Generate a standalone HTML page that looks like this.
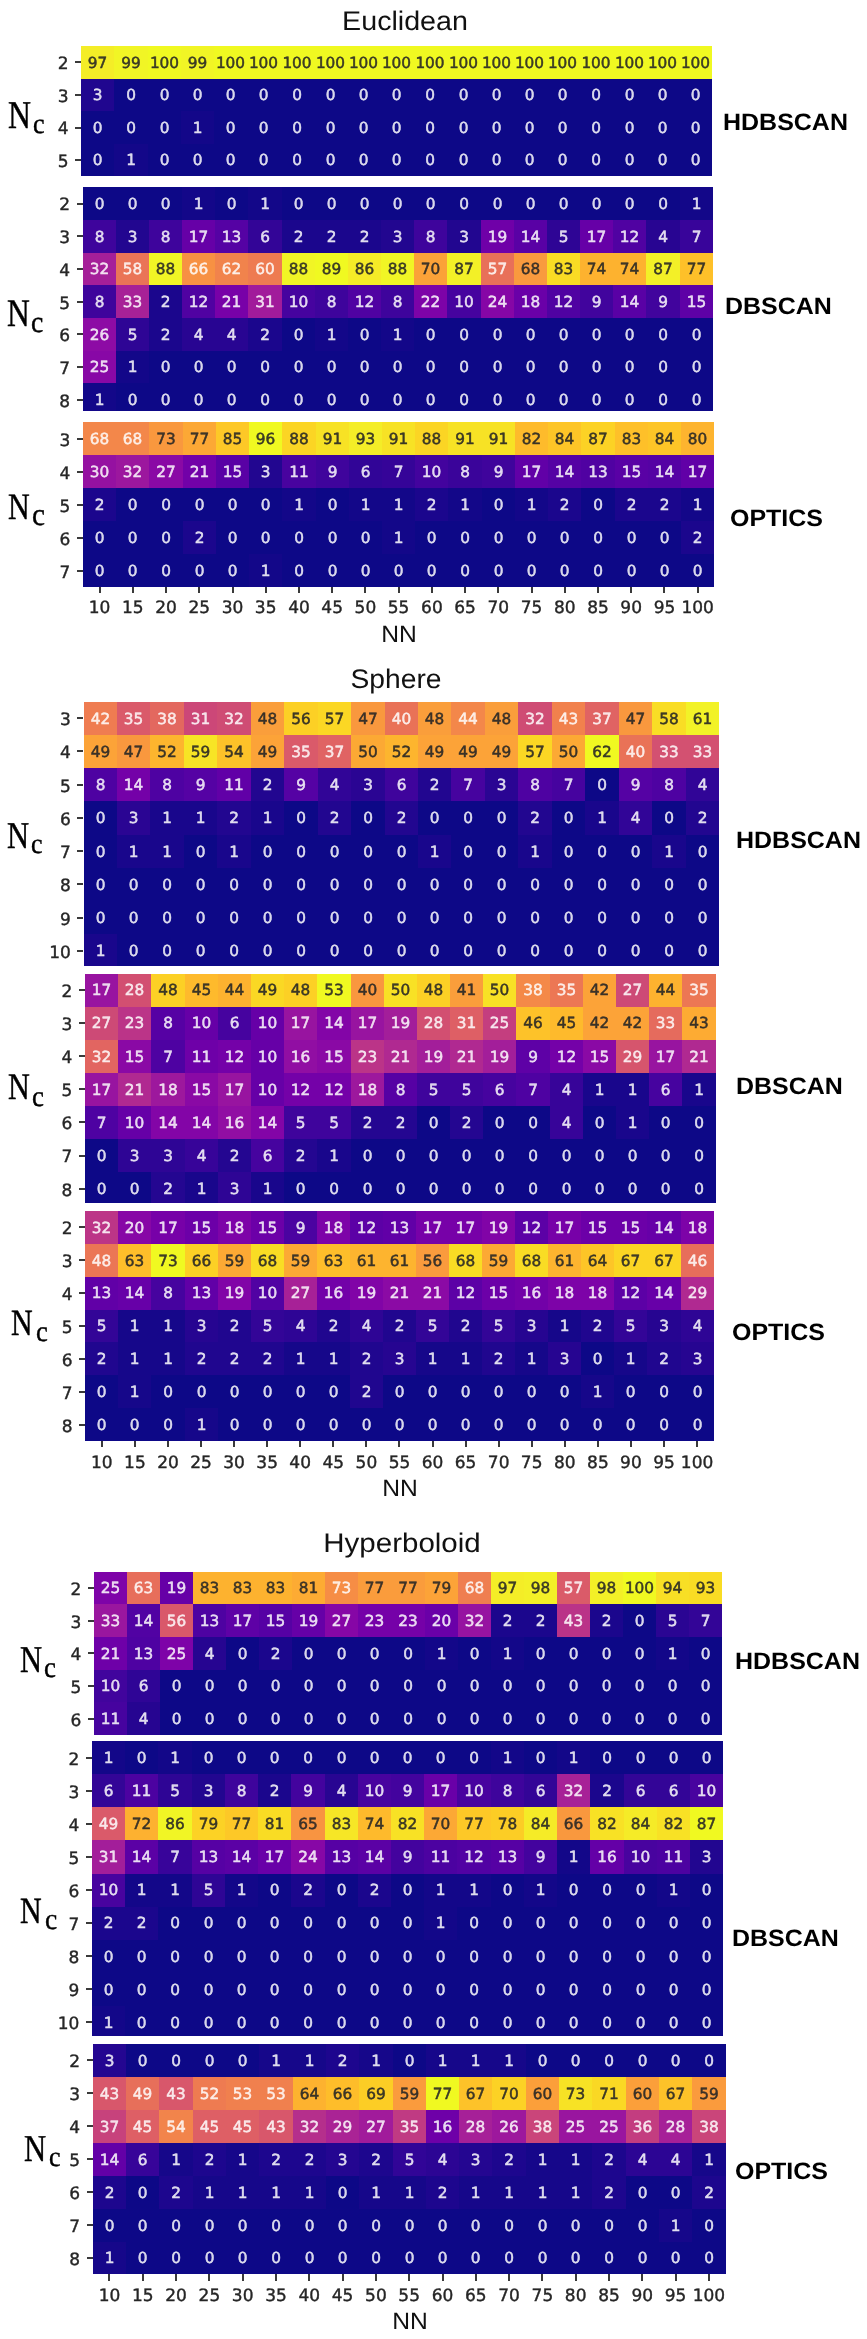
<!DOCTYPE html>
<html><head><meta charset="utf-8"><title>Cluster count heatmaps</title>
<style>
html,body{margin:0;padding:0;background:#fff}
#fig{position:relative;width:867px;height:2339px;overflow:hidden;background:#fff;filter:blur(0.55px);text-rendering:geometricPrecision;font-family:"DejaVu Sans","Liberation Sans",sans-serif}
#fig div{position:absolute;white-space:nowrap}
.hm{overflow:hidden}
.c{text-align:center;line-height:20px;font-size:15.3px;color:rgba(255,255,255,.82);-webkit-text-stroke:0.5px currentColor}
.c.k{color:rgba(38,38,38,.88)}
.yt,.xt{line-height:24px;font-size:17.0px;color:#262626;-webkit-text-stroke:0.4px currentColor}
.yt{text-align:right}
.xt{text-align:center}
.tk{background:#3a3a3a}
.lab{font-family:"Liberation Sans",sans-serif;font-weight:bold;color:#000;font-size:23.7px;line-height:30px;height:30px;transform-origin:0 50%;transform:scaleX(1.055)}
.ttl,.nn{font-family:"Liberation Sans",sans-serif;color:#111;text-align:center;transform-origin:50% 50%}
.N,.sc{font-family:"Liberation Serif",serif;color:#000;transform-origin:0 0;-webkit-text-stroke:0.45px #000}
.N{transform:scaleX(0.81)}
.sc{transform:scaleX(0.92)}
</style></head><body><div id="fig">
<div class="hm" style="left:81px;top:46px;width:631px;height:130px;background:#0d0887"><div class="c k" style="left:0px;top:0px;width:33px;height:33px;background:#f4ed27"><div style="left:0;width:100%;top:7px">97</div></div><div class="c k" style="left:33px;top:0px;width:34px;height:33px;background:#f1f525"><div style="left:0;width:100%;top:7px">99</div></div><div class="c k" style="left:67px;top:0px;width:33px;height:33px;background:#f0f921"><div style="left:0;width:100%;top:7px">100</div></div><div class="c k" style="left:100px;top:0px;width:33px;height:33px;background:#f1f525"><div style="left:0;width:100%;top:7px">99</div></div><div class="c k" style="left:133px;top:0px;width:33px;height:33px;background:#f0f921"><div style="left:0;width:100%;top:7px">100</div></div><div class="c k" style="left:166px;top:0px;width:33px;height:33px;background:#f0f921"><div style="left:0;width:100%;top:7px">100</div></div><div class="c k" style="left:199px;top:0px;width:34px;height:33px;background:#f0f921"><div style="left:0;width:100%;top:7px">100</div></div><div class="c k" style="left:233px;top:0px;width:33px;height:33px;background:#f0f921"><div style="left:0;width:100%;top:7px">100</div></div><div class="c k" style="left:266px;top:0px;width:33px;height:33px;background:#f0f921"><div style="left:0;width:100%;top:7px">100</div></div><div class="c k" style="left:299px;top:0px;width:33px;height:33px;background:#f0f921"><div style="left:0;width:100%;top:7px">100</div></div><div class="c k" style="left:332px;top:0px;width:34px;height:33px;background:#f0f921"><div style="left:0;width:100%;top:7px">100</div></div><div class="c k" style="left:366px;top:0px;width:33px;height:33px;background:#f0f921"><div style="left:0;width:100%;top:7px">100</div></div><div class="c k" style="left:399px;top:0px;width:33px;height:33px;background:#f0f921"><div style="left:0;width:100%;top:7px">100</div></div><div class="c k" style="left:432px;top:0px;width:33px;height:33px;background:#f0f921"><div style="left:0;width:100%;top:7px">100</div></div><div class="c k" style="left:465px;top:0px;width:33px;height:33px;background:#f0f921"><div style="left:0;width:100%;top:7px">100</div></div><div class="c k" style="left:498px;top:0px;width:34px;height:33px;background:#f0f921"><div style="left:0;width:100%;top:7px">100</div></div><div class="c k" style="left:532px;top:0px;width:33px;height:33px;background:#f0f921"><div style="left:0;width:100%;top:7px">100</div></div><div class="c k" style="left:565px;top:0px;width:33px;height:33px;background:#f0f921"><div style="left:0;width:100%;top:7px">100</div></div><div class="c k" style="left:598px;top:0px;width:33px;height:33px;background:#f0f921"><div style="left:0;width:100%;top:7px">100</div></div><div class="c" style="left:0px;top:33px;width:33px;height:32px;background:#20068f"><div style="left:0;width:100%;top:6px">3</div></div><div class="c" style="left:33px;top:33px;width:34px;height:32px;background:#0d0887"><div style="left:0;width:100%;top:6px">0</div></div><div class="c" style="left:67px;top:33px;width:33px;height:32px;background:#0d0887"><div style="left:0;width:100%;top:6px">0</div></div><div class="c" style="left:100px;top:33px;width:33px;height:32px;background:#0d0887"><div style="left:0;width:100%;top:6px">0</div></div><div class="c" style="left:133px;top:33px;width:33px;height:32px;background:#0d0887"><div style="left:0;width:100%;top:6px">0</div></div><div class="c" style="left:166px;top:33px;width:33px;height:32px;background:#0d0887"><div style="left:0;width:100%;top:6px">0</div></div><div class="c" style="left:199px;top:33px;width:34px;height:32px;background:#0d0887"><div style="left:0;width:100%;top:6px">0</div></div><div class="c" style="left:233px;top:33px;width:33px;height:32px;background:#0d0887"><div style="left:0;width:100%;top:6px">0</div></div><div class="c" style="left:266px;top:33px;width:33px;height:32px;background:#0d0887"><div style="left:0;width:100%;top:6px">0</div></div><div class="c" style="left:299px;top:33px;width:33px;height:32px;background:#0d0887"><div style="left:0;width:100%;top:6px">0</div></div><div class="c" style="left:332px;top:33px;width:34px;height:32px;background:#0d0887"><div style="left:0;width:100%;top:6px">0</div></div><div class="c" style="left:366px;top:33px;width:33px;height:32px;background:#0d0887"><div style="left:0;width:100%;top:6px">0</div></div><div class="c" style="left:399px;top:33px;width:33px;height:32px;background:#0d0887"><div style="left:0;width:100%;top:6px">0</div></div><div class="c" style="left:432px;top:33px;width:33px;height:32px;background:#0d0887"><div style="left:0;width:100%;top:6px">0</div></div><div class="c" style="left:465px;top:33px;width:33px;height:32px;background:#0d0887"><div style="left:0;width:100%;top:6px">0</div></div><div class="c" style="left:498px;top:33px;width:34px;height:32px;background:#0d0887"><div style="left:0;width:100%;top:6px">0</div></div><div class="c" style="left:532px;top:33px;width:33px;height:32px;background:#0d0887"><div style="left:0;width:100%;top:6px">0</div></div><div class="c" style="left:565px;top:33px;width:33px;height:32px;background:#0d0887"><div style="left:0;width:100%;top:6px">0</div></div><div class="c" style="left:598px;top:33px;width:33px;height:32px;background:#0d0887"><div style="left:0;width:100%;top:6px">0</div></div><div class="c" style="left:0px;top:65px;width:33px;height:33px;background:#0d0887"><div style="left:0;width:100%;top:7px">0</div></div><div class="c" style="left:33px;top:65px;width:34px;height:33px;background:#0d0887"><div style="left:0;width:100%;top:7px">0</div></div><div class="c" style="left:67px;top:65px;width:33px;height:33px;background:#0d0887"><div style="left:0;width:100%;top:7px">0</div></div><div class="c" style="left:100px;top:65px;width:33px;height:33px;background:#130789"><div style="left:0;width:100%;top:7px">1</div></div><div class="c" style="left:133px;top:65px;width:33px;height:33px;background:#0d0887"><div style="left:0;width:100%;top:7px">0</div></div><div class="c" style="left:166px;top:65px;width:33px;height:33px;background:#0d0887"><div style="left:0;width:100%;top:7px">0</div></div><div class="c" style="left:199px;top:65px;width:34px;height:33px;background:#0d0887"><div style="left:0;width:100%;top:7px">0</div></div><div class="c" style="left:233px;top:65px;width:33px;height:33px;background:#0d0887"><div style="left:0;width:100%;top:7px">0</div></div><div class="c" style="left:266px;top:65px;width:33px;height:33px;background:#0d0887"><div style="left:0;width:100%;top:7px">0</div></div><div class="c" style="left:299px;top:65px;width:33px;height:33px;background:#0d0887"><div style="left:0;width:100%;top:7px">0</div></div><div class="c" style="left:332px;top:65px;width:34px;height:33px;background:#0d0887"><div style="left:0;width:100%;top:7px">0</div></div><div class="c" style="left:366px;top:65px;width:33px;height:33px;background:#0d0887"><div style="left:0;width:100%;top:7px">0</div></div><div class="c" style="left:399px;top:65px;width:33px;height:33px;background:#0d0887"><div style="left:0;width:100%;top:7px">0</div></div><div class="c" style="left:432px;top:65px;width:33px;height:33px;background:#0d0887"><div style="left:0;width:100%;top:7px">0</div></div><div class="c" style="left:465px;top:65px;width:33px;height:33px;background:#0d0887"><div style="left:0;width:100%;top:7px">0</div></div><div class="c" style="left:498px;top:65px;width:34px;height:33px;background:#0d0887"><div style="left:0;width:100%;top:7px">0</div></div><div class="c" style="left:532px;top:65px;width:33px;height:33px;background:#0d0887"><div style="left:0;width:100%;top:7px">0</div></div><div class="c" style="left:565px;top:65px;width:33px;height:33px;background:#0d0887"><div style="left:0;width:100%;top:7px">0</div></div><div class="c" style="left:598px;top:65px;width:33px;height:33px;background:#0d0887"><div style="left:0;width:100%;top:7px">0</div></div><div class="c" style="left:0px;top:98px;width:33px;height:32px;background:#0d0887"><div style="left:0;width:100%;top:6px">0</div></div><div class="c" style="left:33px;top:98px;width:34px;height:32px;background:#130789"><div style="left:0;width:100%;top:6px">1</div></div><div class="c" style="left:67px;top:98px;width:33px;height:32px;background:#0d0887"><div style="left:0;width:100%;top:6px">0</div></div><div class="c" style="left:100px;top:98px;width:33px;height:32px;background:#0d0887"><div style="left:0;width:100%;top:6px">0</div></div><div class="c" style="left:133px;top:98px;width:33px;height:32px;background:#0d0887"><div style="left:0;width:100%;top:6px">0</div></div><div class="c" style="left:166px;top:98px;width:33px;height:32px;background:#0d0887"><div style="left:0;width:100%;top:6px">0</div></div><div class="c" style="left:199px;top:98px;width:34px;height:32px;background:#0d0887"><div style="left:0;width:100%;top:6px">0</div></div><div class="c" style="left:233px;top:98px;width:33px;height:32px;background:#0d0887"><div style="left:0;width:100%;top:6px">0</div></div><div class="c" style="left:266px;top:98px;width:33px;height:32px;background:#0d0887"><div style="left:0;width:100%;top:6px">0</div></div><div class="c" style="left:299px;top:98px;width:33px;height:32px;background:#0d0887"><div style="left:0;width:100%;top:6px">0</div></div><div class="c" style="left:332px;top:98px;width:34px;height:32px;background:#0d0887"><div style="left:0;width:100%;top:6px">0</div></div><div class="c" style="left:366px;top:98px;width:33px;height:32px;background:#0d0887"><div style="left:0;width:100%;top:6px">0</div></div><div class="c" style="left:399px;top:98px;width:33px;height:32px;background:#0d0887"><div style="left:0;width:100%;top:6px">0</div></div><div class="c" style="left:432px;top:98px;width:33px;height:32px;background:#0d0887"><div style="left:0;width:100%;top:6px">0</div></div><div class="c" style="left:465px;top:98px;width:33px;height:32px;background:#0d0887"><div style="left:0;width:100%;top:6px">0</div></div><div class="c" style="left:498px;top:98px;width:34px;height:32px;background:#0d0887"><div style="left:0;width:100%;top:6px">0</div></div><div class="c" style="left:532px;top:98px;width:33px;height:32px;background:#0d0887"><div style="left:0;width:100%;top:6px">0</div></div><div class="c" style="left:565px;top:98px;width:33px;height:32px;background:#0d0887"><div style="left:0;width:100%;top:6px">0</div></div><div class="c" style="left:598px;top:98px;width:33px;height:32px;background:#0d0887"><div style="left:0;width:100%;top:6px">0</div></div></div>
<div class="tk" style="left:75.0px;top:61px;width:6.2px;height:2px"></div><div class="yt" style="left:8.5px;top:52px;width:60px">2</div><div class="tk" style="left:75.0px;top:94px;width:6.2px;height:2px"></div><div class="yt" style="left:8.5px;top:85px;width:60px">3</div><div class="tk" style="left:75.0px;top:127px;width:6.2px;height:2px"></div><div class="yt" style="left:8.5px;top:117px;width:60px">4</div><div class="tk" style="left:75.0px;top:159px;width:6.2px;height:2px"></div><div class="yt" style="left:8.5px;top:150px;width:60px">5</div>
<div class="lab" style="left:723.1px;top:107.97px">HDBSCAN</div>
<div class="N" style="left:7.6px;top:93.84px;line-height:44px;font-size:39.27px">N</div><div class="sc" style="left:32.8px;top:105.44px;line-height:40px;font-size:28.32px">c</div>
<div class="hm" style="left:83px;top:187px;width:630px;height:224px;background:#0d0887"><div class="c" style="left:0px;top:0px;width:33px;height:33px;background:#0d0887"><div style="left:0;width:100%;top:7px">0</div></div><div class="c" style="left:33px;top:0px;width:33px;height:33px;background:#0d0887"><div style="left:0;width:100%;top:7px">0</div></div><div class="c" style="left:66px;top:0px;width:33px;height:33px;background:#0d0887"><div style="left:0;width:100%;top:7px">0</div></div><div class="c" style="left:99px;top:0px;width:33px;height:33px;background:#130789"><div style="left:0;width:100%;top:7px">1</div></div><div class="c" style="left:132px;top:0px;width:33px;height:33px;background:#0d0887"><div style="left:0;width:100%;top:7px">0</div></div><div class="c" style="left:165px;top:0px;width:34px;height:33px;background:#130789"><div style="left:0;width:100%;top:7px">1</div></div><div class="c" style="left:199px;top:0px;width:33px;height:33px;background:#0d0887"><div style="left:0;width:100%;top:7px">0</div></div><div class="c" style="left:232px;top:0px;width:33px;height:33px;background:#0d0887"><div style="left:0;width:100%;top:7px">0</div></div><div class="c" style="left:265px;top:0px;width:33px;height:33px;background:#0d0887"><div style="left:0;width:100%;top:7px">0</div></div><div class="c" style="left:298px;top:0px;width:33px;height:33px;background:#0d0887"><div style="left:0;width:100%;top:7px">0</div></div><div class="c" style="left:331px;top:0px;width:33px;height:33px;background:#0d0887"><div style="left:0;width:100%;top:7px">0</div></div><div class="c" style="left:364px;top:0px;width:34px;height:33px;background:#0d0887"><div style="left:0;width:100%;top:7px">0</div></div><div class="c" style="left:398px;top:0px;width:33px;height:33px;background:#0d0887"><div style="left:0;width:100%;top:7px">0</div></div><div class="c" style="left:431px;top:0px;width:33px;height:33px;background:#0d0887"><div style="left:0;width:100%;top:7px">0</div></div><div class="c" style="left:464px;top:0px;width:33px;height:33px;background:#0d0887"><div style="left:0;width:100%;top:7px">0</div></div><div class="c" style="left:497px;top:0px;width:33px;height:33px;background:#0d0887"><div style="left:0;width:100%;top:7px">0</div></div><div class="c" style="left:530px;top:0px;width:33px;height:33px;background:#0d0887"><div style="left:0;width:100%;top:7px">0</div></div><div class="c" style="left:563px;top:0px;width:34px;height:33px;background:#0d0887"><div style="left:0;width:100%;top:7px">0</div></div><div class="c" style="left:597px;top:0px;width:33px;height:33px;background:#130789"><div style="left:0;width:100%;top:7px">1</div></div><div class="c" style="left:0px;top:33px;width:33px;height:33px;background:#3e049c"><div style="left:0;width:100%;top:7px">8</div></div><div class="c" style="left:33px;top:33px;width:33px;height:33px;background:#220690"><div style="left:0;width:100%;top:7px">3</div></div><div class="c" style="left:66px;top:33px;width:33px;height:33px;background:#3e049c"><div style="left:0;width:100%;top:7px">8</div></div><div class="c" style="left:99px;top:33px;width:33px;height:33px;background:#6600a7"><div style="left:0;width:100%;top:7px">17</div></div><div class="c" style="left:132px;top:33px;width:33px;height:33px;background:#5502a4"><div style="left:0;width:100%;top:7px">13</div></div><div class="c" style="left:165px;top:33px;width:34px;height:33px;background:#330597"><div style="left:0;width:100%;top:7px">6</div></div><div class="c" style="left:199px;top:33px;width:33px;height:33px;background:#1b068d"><div style="left:0;width:100%;top:7px">2</div></div><div class="c" style="left:232px;top:33px;width:33px;height:33px;background:#1b068d"><div style="left:0;width:100%;top:7px">2</div></div><div class="c" style="left:265px;top:33px;width:33px;height:33px;background:#1b068d"><div style="left:0;width:100%;top:7px">2</div></div><div class="c" style="left:298px;top:33px;width:33px;height:33px;background:#220690"><div style="left:0;width:100%;top:7px">3</div></div><div class="c" style="left:331px;top:33px;width:33px;height:33px;background:#3e049c"><div style="left:0;width:100%;top:7px">8</div></div><div class="c" style="left:364px;top:33px;width:34px;height:33px;background:#220690"><div style="left:0;width:100%;top:7px">3</div></div><div class="c" style="left:398px;top:33px;width:33px;height:33px;background:#6f00a8"><div style="left:0;width:100%;top:7px">19</div></div><div class="c" style="left:431px;top:33px;width:33px;height:33px;background:#5901a5"><div style="left:0;width:100%;top:7px">14</div></div><div class="c" style="left:464px;top:33px;width:33px;height:33px;background:#2e0595"><div style="left:0;width:100%;top:7px">5</div></div><div class="c" style="left:497px;top:33px;width:33px;height:33px;background:#6600a7"><div style="left:0;width:100%;top:7px">17</div></div><div class="c" style="left:530px;top:33px;width:33px;height:33px;background:#5002a2"><div style="left:0;width:100%;top:7px">12</div></div><div class="c" style="left:563px;top:33px;width:34px;height:33px;background:#280592"><div style="left:0;width:100%;top:7px">4</div></div><div class="c" style="left:597px;top:33px;width:33px;height:33px;background:#38049a"><div style="left:0;width:100%;top:7px">7</div></div><div class="c" style="left:0px;top:66px;width:33px;height:32px;background:#a51f99"><div style="left:0;width:100%;top:6px">32</div></div><div class="c" style="left:33px;top:66px;width:33px;height:32px;background:#ea7457"><div style="left:0;width:100%;top:6px">58</div></div><div class="c k" style="left:66px;top:66px;width:33px;height:32px;background:#f1f525"><div style="left:0;width:100%;top:6px">88</div></div><div class="c" style="left:99px;top:66px;width:33px;height:32px;background:#f79143"><div style="left:0;width:100%;top:6px">66</div></div><div class="c" style="left:132px;top:66px;width:33px;height:32px;background:#f1834c"><div style="left:0;width:100%;top:6px">62</div></div><div class="c" style="left:165px;top:66px;width:34px;height:32px;background:#ee7b51"><div style="left:0;width:100%;top:6px">60</div></div><div class="c k" style="left:199px;top:66px;width:33px;height:32px;background:#f1f525"><div style="left:0;width:100%;top:6px">88</div></div><div class="c k" style="left:232px;top:66px;width:33px;height:32px;background:#f0f921"><div style="left:0;width:100%;top:6px">89</div></div><div class="c k" style="left:265px;top:66px;width:33px;height:32px;background:#f5eb27"><div style="left:0;width:100%;top:6px">86</div></div><div class="c k" style="left:298px;top:66px;width:33px;height:32px;background:#f1f525"><div style="left:0;width:100%;top:6px">88</div></div><div class="c k" style="left:331px;top:66px;width:33px;height:32px;background:#fba238"><div style="left:0;width:100%;top:6px">70</div></div><div class="c k" style="left:364px;top:66px;width:34px;height:32px;background:#f3f027"><div style="left:0;width:100%;top:6px">87</div></div><div class="c" style="left:398px;top:66px;width:33px;height:32px;background:#e87059"><div style="left:0;width:100%;top:6px">57</div></div><div class="c k" style="left:431px;top:66px;width:33px;height:32px;background:#f99a3e"><div style="left:0;width:100%;top:6px">68</div></div><div class="c k" style="left:464px;top:66px;width:33px;height:32px;background:#f9dc24"><div style="left:0;width:100%;top:6px">83</div></div><div class="c k" style="left:497px;top:66px;width:33px;height:32px;background:#fdb22f"><div style="left:0;width:100%;top:6px">74</div></div><div class="c k" style="left:530px;top:66px;width:33px;height:32px;background:#fdb22f"><div style="left:0;width:100%;top:6px">74</div></div><div class="c k" style="left:563px;top:66px;width:34px;height:32px;background:#f3f027"><div style="left:0;width:100%;top:6px">87</div></div><div class="c k" style="left:597px;top:66px;width:33px;height:32px;background:#fec029"><div style="left:0;width:100%;top:6px">77</div></div><div class="c" style="left:0px;top:98px;width:33px;height:33px;background:#3e049c"><div style="left:0;width:100%;top:7px">8</div></div><div class="c" style="left:33px;top:98px;width:33px;height:33px;background:#a72197"><div style="left:0;width:100%;top:7px">33</div></div><div class="c" style="left:66px;top:98px;width:33px;height:33px;background:#1b068d"><div style="left:0;width:100%;top:7px">2</div></div><div class="c" style="left:99px;top:98px;width:33px;height:33px;background:#5002a2"><div style="left:0;width:100%;top:7px">12</div></div><div class="c" style="left:132px;top:98px;width:33px;height:33px;background:#7801a8"><div style="left:0;width:100%;top:7px">21</div></div><div class="c" style="left:165px;top:98px;width:34px;height:33px;background:#a11b9b"><div style="left:0;width:100%;top:7px">31</div></div><div class="c" style="left:199px;top:98px;width:33px;height:33px;background:#46039f"><div style="left:0;width:100%;top:7px">10</div></div><div class="c" style="left:232px;top:98px;width:33px;height:33px;background:#3e049c"><div style="left:0;width:100%;top:7px">8</div></div><div class="c" style="left:265px;top:98px;width:33px;height:33px;background:#5002a2"><div style="left:0;width:100%;top:7px">12</div></div><div class="c" style="left:298px;top:98px;width:33px;height:33px;background:#3e049c"><div style="left:0;width:100%;top:7px">8</div></div><div class="c" style="left:331px;top:98px;width:33px;height:33px;background:#7d03a8"><div style="left:0;width:100%;top:7px">22</div></div><div class="c" style="left:364px;top:98px;width:34px;height:33px;background:#46039f"><div style="left:0;width:100%;top:7px">10</div></div><div class="c" style="left:398px;top:98px;width:33px;height:33px;background:#8606a6"><div style="left:0;width:100%;top:7px">24</div></div><div class="c" style="left:431px;top:98px;width:33px;height:33px;background:#6a00a8"><div style="left:0;width:100%;top:7px">18</div></div><div class="c" style="left:464px;top:98px;width:33px;height:33px;background:#5002a2"><div style="left:0;width:100%;top:7px">12</div></div><div class="c" style="left:497px;top:98px;width:33px;height:33px;background:#41049d"><div style="left:0;width:100%;top:7px">9</div></div><div class="c" style="left:530px;top:98px;width:33px;height:33px;background:#5901a5"><div style="left:0;width:100%;top:7px">14</div></div><div class="c" style="left:563px;top:98px;width:34px;height:33px;background:#41049d"><div style="left:0;width:100%;top:7px">9</div></div><div class="c" style="left:597px;top:98px;width:33px;height:33px;background:#5e01a6"><div style="left:0;width:100%;top:7px">15</div></div><div class="c" style="left:0px;top:131px;width:33px;height:33px;background:#8d0ba5"><div style="left:0;width:100%;top:7px">26</div></div><div class="c" style="left:33px;top:131px;width:33px;height:33px;background:#2e0595"><div style="left:0;width:100%;top:7px">5</div></div><div class="c" style="left:66px;top:131px;width:33px;height:33px;background:#1b068d"><div style="left:0;width:100%;top:7px">2</div></div><div class="c" style="left:99px;top:131px;width:33px;height:33px;background:#280592"><div style="left:0;width:100%;top:7px">4</div></div><div class="c" style="left:132px;top:131px;width:33px;height:33px;background:#280592"><div style="left:0;width:100%;top:7px">4</div></div><div class="c" style="left:165px;top:131px;width:34px;height:33px;background:#1b068d"><div style="left:0;width:100%;top:7px">2</div></div><div class="c" style="left:199px;top:131px;width:33px;height:33px;background:#0d0887"><div style="left:0;width:100%;top:7px">0</div></div><div class="c" style="left:232px;top:131px;width:33px;height:33px;background:#130789"><div style="left:0;width:100%;top:7px">1</div></div><div class="c" style="left:265px;top:131px;width:33px;height:33px;background:#0d0887"><div style="left:0;width:100%;top:7px">0</div></div><div class="c" style="left:298px;top:131px;width:33px;height:33px;background:#130789"><div style="left:0;width:100%;top:7px">1</div></div><div class="c" style="left:331px;top:131px;width:33px;height:33px;background:#0d0887"><div style="left:0;width:100%;top:7px">0</div></div><div class="c" style="left:364px;top:131px;width:34px;height:33px;background:#0d0887"><div style="left:0;width:100%;top:7px">0</div></div><div class="c" style="left:398px;top:131px;width:33px;height:33px;background:#0d0887"><div style="left:0;width:100%;top:7px">0</div></div><div class="c" style="left:431px;top:131px;width:33px;height:33px;background:#0d0887"><div style="left:0;width:100%;top:7px">0</div></div><div class="c" style="left:464px;top:131px;width:33px;height:33px;background:#0d0887"><div style="left:0;width:100%;top:7px">0</div></div><div class="c" style="left:497px;top:131px;width:33px;height:33px;background:#0d0887"><div style="left:0;width:100%;top:7px">0</div></div><div class="c" style="left:530px;top:131px;width:33px;height:33px;background:#0d0887"><div style="left:0;width:100%;top:7px">0</div></div><div class="c" style="left:563px;top:131px;width:34px;height:33px;background:#0d0887"><div style="left:0;width:100%;top:7px">0</div></div><div class="c" style="left:597px;top:131px;width:33px;height:33px;background:#0d0887"><div style="left:0;width:100%;top:7px">0</div></div><div class="c" style="left:0px;top:164px;width:33px;height:32px;background:#8808a6"><div style="left:0;width:100%;top:6px">25</div></div><div class="c" style="left:33px;top:164px;width:33px;height:32px;background:#130789"><div style="left:0;width:100%;top:6px">1</div></div><div class="c" style="left:66px;top:164px;width:33px;height:32px;background:#0d0887"><div style="left:0;width:100%;top:6px">0</div></div><div class="c" style="left:99px;top:164px;width:33px;height:32px;background:#0d0887"><div style="left:0;width:100%;top:6px">0</div></div><div class="c" style="left:132px;top:164px;width:33px;height:32px;background:#0d0887"><div style="left:0;width:100%;top:6px">0</div></div><div class="c" style="left:165px;top:164px;width:34px;height:32px;background:#0d0887"><div style="left:0;width:100%;top:6px">0</div></div><div class="c" style="left:199px;top:164px;width:33px;height:32px;background:#0d0887"><div style="left:0;width:100%;top:6px">0</div></div><div class="c" style="left:232px;top:164px;width:33px;height:32px;background:#0d0887"><div style="left:0;width:100%;top:6px">0</div></div><div class="c" style="left:265px;top:164px;width:33px;height:32px;background:#0d0887"><div style="left:0;width:100%;top:6px">0</div></div><div class="c" style="left:298px;top:164px;width:33px;height:32px;background:#0d0887"><div style="left:0;width:100%;top:6px">0</div></div><div class="c" style="left:331px;top:164px;width:33px;height:32px;background:#0d0887"><div style="left:0;width:100%;top:6px">0</div></div><div class="c" style="left:364px;top:164px;width:34px;height:32px;background:#0d0887"><div style="left:0;width:100%;top:6px">0</div></div><div class="c" style="left:398px;top:164px;width:33px;height:32px;background:#0d0887"><div style="left:0;width:100%;top:6px">0</div></div><div class="c" style="left:431px;top:164px;width:33px;height:32px;background:#0d0887"><div style="left:0;width:100%;top:6px">0</div></div><div class="c" style="left:464px;top:164px;width:33px;height:32px;background:#0d0887"><div style="left:0;width:100%;top:6px">0</div></div><div class="c" style="left:497px;top:164px;width:33px;height:32px;background:#0d0887"><div style="left:0;width:100%;top:6px">0</div></div><div class="c" style="left:530px;top:164px;width:33px;height:32px;background:#0d0887"><div style="left:0;width:100%;top:6px">0</div></div><div class="c" style="left:563px;top:164px;width:34px;height:32px;background:#0d0887"><div style="left:0;width:100%;top:6px">0</div></div><div class="c" style="left:597px;top:164px;width:33px;height:32px;background:#0d0887"><div style="left:0;width:100%;top:6px">0</div></div><div class="c" style="left:0px;top:196px;width:33px;height:33px;background:#130789"><div style="left:0;width:100%;top:7px">1</div></div><div class="c" style="left:33px;top:196px;width:33px;height:33px;background:#0d0887"><div style="left:0;width:100%;top:7px">0</div></div><div class="c" style="left:66px;top:196px;width:33px;height:33px;background:#0d0887"><div style="left:0;width:100%;top:7px">0</div></div><div class="c" style="left:99px;top:196px;width:33px;height:33px;background:#0d0887"><div style="left:0;width:100%;top:7px">0</div></div><div class="c" style="left:132px;top:196px;width:33px;height:33px;background:#0d0887"><div style="left:0;width:100%;top:7px">0</div></div><div class="c" style="left:165px;top:196px;width:34px;height:33px;background:#0d0887"><div style="left:0;width:100%;top:7px">0</div></div><div class="c" style="left:199px;top:196px;width:33px;height:33px;background:#0d0887"><div style="left:0;width:100%;top:7px">0</div></div><div class="c" style="left:232px;top:196px;width:33px;height:33px;background:#0d0887"><div style="left:0;width:100%;top:7px">0</div></div><div class="c" style="left:265px;top:196px;width:33px;height:33px;background:#0d0887"><div style="left:0;width:100%;top:7px">0</div></div><div class="c" style="left:298px;top:196px;width:33px;height:33px;background:#0d0887"><div style="left:0;width:100%;top:7px">0</div></div><div class="c" style="left:331px;top:196px;width:33px;height:33px;background:#0d0887"><div style="left:0;width:100%;top:7px">0</div></div><div class="c" style="left:364px;top:196px;width:34px;height:33px;background:#0d0887"><div style="left:0;width:100%;top:7px">0</div></div><div class="c" style="left:398px;top:196px;width:33px;height:33px;background:#0d0887"><div style="left:0;width:100%;top:7px">0</div></div><div class="c" style="left:431px;top:196px;width:33px;height:33px;background:#0d0887"><div style="left:0;width:100%;top:7px">0</div></div><div class="c" style="left:464px;top:196px;width:33px;height:33px;background:#0d0887"><div style="left:0;width:100%;top:7px">0</div></div><div class="c" style="left:497px;top:196px;width:33px;height:33px;background:#0d0887"><div style="left:0;width:100%;top:7px">0</div></div><div class="c" style="left:530px;top:196px;width:33px;height:33px;background:#0d0887"><div style="left:0;width:100%;top:7px">0</div></div><div class="c" style="left:563px;top:196px;width:34px;height:33px;background:#0d0887"><div style="left:0;width:100%;top:7px">0</div></div><div class="c" style="left:597px;top:196px;width:33px;height:33px;background:#0d0887"><div style="left:0;width:100%;top:7px">0</div></div></div>
<div class="tk" style="left:76.5px;top:203px;width:6.2px;height:2px"></div><div class="yt" style="left:10.0px;top:193px;width:60px">2</div><div class="tk" style="left:76.5px;top:235px;width:6.2px;height:2px"></div><div class="yt" style="left:10.0px;top:226px;width:60px">3</div><div class="tk" style="left:76.5px;top:268px;width:6.2px;height:2px"></div><div class="yt" style="left:10.0px;top:259px;width:60px">4</div><div class="tk" style="left:76.5px;top:301px;width:6.2px;height:2px"></div><div class="yt" style="left:10.0px;top:292px;width:60px">5</div><div class="tk" style="left:76.5px;top:333px;width:6.2px;height:2px"></div><div class="yt" style="left:10.0px;top:324px;width:60px">6</div><div class="tk" style="left:76.5px;top:366px;width:6.2px;height:2px"></div><div class="yt" style="left:10.0px;top:357px;width:60px">7</div><div class="tk" style="left:76.5px;top:399px;width:6.2px;height:2px"></div><div class="yt" style="left:10.0px;top:390px;width:60px">8</div>
<div class="lab" style="left:725.2px;top:292.02px">DBSCAN</div>
<div class="N" style="left:7.0px;top:291.65px;line-height:44px;font-size:38.97px">N</div><div class="sc" style="left:31.3px;top:302.15px;line-height:40px;font-size:30.07px">c</div>
<div class="hm" style="left:83px;top:422px;width:631px;height:165px;background:#0d0887"><div class="c" style="left:0px;top:0px;width:33px;height:33px;background:#f3874a"><div style="left:0;width:100%;top:7px">68</div></div><div class="c" style="left:33px;top:0px;width:33px;height:33px;background:#f3874a"><div style="left:0;width:100%;top:7px">68</div></div><div class="c k" style="left:66px;top:0px;width:34px;height:33px;background:#f9983e"><div style="left:0;width:100%;top:7px">73</div></div><div class="c k" style="left:100px;top:0px;width:33px;height:33px;background:#fca835"><div style="left:0;width:100%;top:7px">77</div></div><div class="c k" style="left:133px;top:0px;width:33px;height:33px;background:#fdc827"><div style="left:0;width:100%;top:7px">85</div></div><div class="c k" style="left:166px;top:0px;width:33px;height:33px;background:#f0f921"><div style="left:0;width:100%;top:7px">96</div></div><div class="c k" style="left:199px;top:0px;width:34px;height:33px;background:#fbd524"><div style="left:0;width:100%;top:7px">88</div></div><div class="c k" style="left:233px;top:0px;width:33px;height:33px;background:#f7e225"><div style="left:0;width:100%;top:7px">91</div></div><div class="c k" style="left:266px;top:0px;width:33px;height:33px;background:#f4ed27"><div style="left:0;width:100%;top:7px">93</div></div><div class="c k" style="left:299px;top:0px;width:33px;height:33px;background:#f7e225"><div style="left:0;width:100%;top:7px">91</div></div><div class="c k" style="left:332px;top:0px;width:33px;height:33px;background:#fbd524"><div style="left:0;width:100%;top:7px">88</div></div><div class="c k" style="left:365px;top:0px;width:34px;height:33px;background:#f7e225"><div style="left:0;width:100%;top:7px">91</div></div><div class="c k" style="left:399px;top:0px;width:33px;height:33px;background:#f7e225"><div style="left:0;width:100%;top:7px">91</div></div><div class="c k" style="left:432px;top:0px;width:33px;height:33px;background:#febb2b"><div style="left:0;width:100%;top:7px">82</div></div><div class="c k" style="left:465px;top:0px;width:33px;height:33px;background:#fdc527"><div style="left:0;width:100%;top:7px">84</div></div><div class="c k" style="left:498px;top:0px;width:34px;height:33px;background:#fcd225"><div style="left:0;width:100%;top:7px">87</div></div><div class="c k" style="left:532px;top:0px;width:33px;height:33px;background:#fec029"><div style="left:0;width:100%;top:7px">83</div></div><div class="c k" style="left:565px;top:0px;width:33px;height:33px;background:#fdc527"><div style="left:0;width:100%;top:7px">84</div></div><div class="c k" style="left:598px;top:0px;width:33px;height:33px;background:#fdb42f"><div style="left:0;width:100%;top:7px">80</div></div><div class="c" style="left:0px;top:33px;width:33px;height:33px;background:#9511a1"><div style="left:0;width:100%;top:7px">30</div></div><div class="c" style="left:33px;top:33px;width:33px;height:33px;background:#9c179e"><div style="left:0;width:100%;top:7px">32</div></div><div class="c" style="left:66px;top:33px;width:34px;height:33px;background:#8a09a5"><div style="left:0;width:100%;top:7px">27</div></div><div class="c" style="left:100px;top:33px;width:33px;height:33px;background:#7201a8"><div style="left:0;width:100%;top:7px">21</div></div><div class="c" style="left:133px;top:33px;width:33px;height:33px;background:#5901a5"><div style="left:0;width:100%;top:7px">15</div></div><div class="c" style="left:166px;top:33px;width:33px;height:33px;background:#220690"><div style="left:0;width:100%;top:7px">3</div></div><div class="c" style="left:199px;top:33px;width:34px;height:33px;background:#48039f"><div style="left:0;width:100%;top:7px">11</div></div><div class="c" style="left:233px;top:33px;width:33px;height:33px;background:#3f049c"><div style="left:0;width:100%;top:7px">9</div></div><div class="c" style="left:266px;top:33px;width:33px;height:33px;background:#310597"><div style="left:0;width:100%;top:7px">6</div></div><div class="c" style="left:299px;top:33px;width:33px;height:33px;background:#350498"><div style="left:0;width:100%;top:7px">7</div></div><div class="c" style="left:332px;top:33px;width:33px;height:33px;background:#43039e"><div style="left:0;width:100%;top:7px">10</div></div><div class="c" style="left:365px;top:33px;width:34px;height:33px;background:#3a049a"><div style="left:0;width:100%;top:7px">8</div></div><div class="c" style="left:399px;top:33px;width:33px;height:33px;background:#3f049c"><div style="left:0;width:100%;top:7px">9</div></div><div class="c" style="left:432px;top:33px;width:33px;height:33px;background:#6100a7"><div style="left:0;width:100%;top:7px">17</div></div><div class="c" style="left:465px;top:33px;width:33px;height:33px;background:#5502a4"><div style="left:0;width:100%;top:7px">14</div></div><div class="c" style="left:498px;top:33px;width:34px;height:33px;background:#5002a2"><div style="left:0;width:100%;top:7px">13</div></div><div class="c" style="left:532px;top:33px;width:33px;height:33px;background:#5901a5"><div style="left:0;width:100%;top:7px">15</div></div><div class="c" style="left:565px;top:33px;width:33px;height:33px;background:#5502a4"><div style="left:0;width:100%;top:7px">14</div></div><div class="c" style="left:598px;top:33px;width:33px;height:33px;background:#6100a7"><div style="left:0;width:100%;top:7px">17</div></div><div class="c" style="left:0px;top:66px;width:33px;height:33px;background:#1b068d"><div style="left:0;width:100%;top:7px">2</div></div><div class="c" style="left:33px;top:66px;width:33px;height:33px;background:#0d0887"><div style="left:0;width:100%;top:7px">0</div></div><div class="c" style="left:66px;top:66px;width:34px;height:33px;background:#0d0887"><div style="left:0;width:100%;top:7px">0</div></div><div class="c" style="left:100px;top:66px;width:33px;height:33px;background:#0d0887"><div style="left:0;width:100%;top:7px">0</div></div><div class="c" style="left:133px;top:66px;width:33px;height:33px;background:#0d0887"><div style="left:0;width:100%;top:7px">0</div></div><div class="c" style="left:166px;top:66px;width:33px;height:33px;background:#0d0887"><div style="left:0;width:100%;top:7px">0</div></div><div class="c" style="left:199px;top:66px;width:34px;height:33px;background:#130789"><div style="left:0;width:100%;top:7px">1</div></div><div class="c" style="left:233px;top:66px;width:33px;height:33px;background:#0d0887"><div style="left:0;width:100%;top:7px">0</div></div><div class="c" style="left:266px;top:66px;width:33px;height:33px;background:#130789"><div style="left:0;width:100%;top:7px">1</div></div><div class="c" style="left:299px;top:66px;width:33px;height:33px;background:#130789"><div style="left:0;width:100%;top:7px">1</div></div><div class="c" style="left:332px;top:66px;width:33px;height:33px;background:#1b068d"><div style="left:0;width:100%;top:7px">2</div></div><div class="c" style="left:365px;top:66px;width:34px;height:33px;background:#130789"><div style="left:0;width:100%;top:7px">1</div></div><div class="c" style="left:399px;top:66px;width:33px;height:33px;background:#0d0887"><div style="left:0;width:100%;top:7px">0</div></div><div class="c" style="left:432px;top:66px;width:33px;height:33px;background:#130789"><div style="left:0;width:100%;top:7px">1</div></div><div class="c" style="left:465px;top:66px;width:33px;height:33px;background:#1b068d"><div style="left:0;width:100%;top:7px">2</div></div><div class="c" style="left:498px;top:66px;width:34px;height:33px;background:#0d0887"><div style="left:0;width:100%;top:7px">0</div></div><div class="c" style="left:532px;top:66px;width:33px;height:33px;background:#1b068d"><div style="left:0;width:100%;top:7px">2</div></div><div class="c" style="left:565px;top:66px;width:33px;height:33px;background:#1b068d"><div style="left:0;width:100%;top:7px">2</div></div><div class="c" style="left:598px;top:66px;width:33px;height:33px;background:#130789"><div style="left:0;width:100%;top:7px">1</div></div><div class="c" style="left:0px;top:99px;width:33px;height:33px;background:#0d0887"><div style="left:0;width:100%;top:7px">0</div></div><div class="c" style="left:33px;top:99px;width:33px;height:33px;background:#0d0887"><div style="left:0;width:100%;top:7px">0</div></div><div class="c" style="left:66px;top:99px;width:34px;height:33px;background:#0d0887"><div style="left:0;width:100%;top:7px">0</div></div><div class="c" style="left:100px;top:99px;width:33px;height:33px;background:#1b068d"><div style="left:0;width:100%;top:7px">2</div></div><div class="c" style="left:133px;top:99px;width:33px;height:33px;background:#0d0887"><div style="left:0;width:100%;top:7px">0</div></div><div class="c" style="left:166px;top:99px;width:33px;height:33px;background:#0d0887"><div style="left:0;width:100%;top:7px">0</div></div><div class="c" style="left:199px;top:99px;width:34px;height:33px;background:#0d0887"><div style="left:0;width:100%;top:7px">0</div></div><div class="c" style="left:233px;top:99px;width:33px;height:33px;background:#0d0887"><div style="left:0;width:100%;top:7px">0</div></div><div class="c" style="left:266px;top:99px;width:33px;height:33px;background:#0d0887"><div style="left:0;width:100%;top:7px">0</div></div><div class="c" style="left:299px;top:99px;width:33px;height:33px;background:#130789"><div style="left:0;width:100%;top:7px">1</div></div><div class="c" style="left:332px;top:99px;width:33px;height:33px;background:#0d0887"><div style="left:0;width:100%;top:7px">0</div></div><div class="c" style="left:365px;top:99px;width:34px;height:33px;background:#0d0887"><div style="left:0;width:100%;top:7px">0</div></div><div class="c" style="left:399px;top:99px;width:33px;height:33px;background:#0d0887"><div style="left:0;width:100%;top:7px">0</div></div><div class="c" style="left:432px;top:99px;width:33px;height:33px;background:#0d0887"><div style="left:0;width:100%;top:7px">0</div></div><div class="c" style="left:465px;top:99px;width:33px;height:33px;background:#0d0887"><div style="left:0;width:100%;top:7px">0</div></div><div class="c" style="left:498px;top:99px;width:34px;height:33px;background:#0d0887"><div style="left:0;width:100%;top:7px">0</div></div><div class="c" style="left:532px;top:99px;width:33px;height:33px;background:#0d0887"><div style="left:0;width:100%;top:7px">0</div></div><div class="c" style="left:565px;top:99px;width:33px;height:33px;background:#0d0887"><div style="left:0;width:100%;top:7px">0</div></div><div class="c" style="left:598px;top:99px;width:33px;height:33px;background:#1b068d"><div style="left:0;width:100%;top:7px">2</div></div><div class="c" style="left:0px;top:132px;width:33px;height:33px;background:#0d0887"><div style="left:0;width:100%;top:7px">0</div></div><div class="c" style="left:33px;top:132px;width:33px;height:33px;background:#0d0887"><div style="left:0;width:100%;top:7px">0</div></div><div class="c" style="left:66px;top:132px;width:34px;height:33px;background:#0d0887"><div style="left:0;width:100%;top:7px">0</div></div><div class="c" style="left:100px;top:132px;width:33px;height:33px;background:#0d0887"><div style="left:0;width:100%;top:7px">0</div></div><div class="c" style="left:133px;top:132px;width:33px;height:33px;background:#0d0887"><div style="left:0;width:100%;top:7px">0</div></div><div class="c" style="left:166px;top:132px;width:33px;height:33px;background:#130789"><div style="left:0;width:100%;top:7px">1</div></div><div class="c" style="left:199px;top:132px;width:34px;height:33px;background:#0d0887"><div style="left:0;width:100%;top:7px">0</div></div><div class="c" style="left:233px;top:132px;width:33px;height:33px;background:#0d0887"><div style="left:0;width:100%;top:7px">0</div></div><div class="c" style="left:266px;top:132px;width:33px;height:33px;background:#0d0887"><div style="left:0;width:100%;top:7px">0</div></div><div class="c" style="left:299px;top:132px;width:33px;height:33px;background:#0d0887"><div style="left:0;width:100%;top:7px">0</div></div><div class="c" style="left:332px;top:132px;width:33px;height:33px;background:#0d0887"><div style="left:0;width:100%;top:7px">0</div></div><div class="c" style="left:365px;top:132px;width:34px;height:33px;background:#0d0887"><div style="left:0;width:100%;top:7px">0</div></div><div class="c" style="left:399px;top:132px;width:33px;height:33px;background:#0d0887"><div style="left:0;width:100%;top:7px">0</div></div><div class="c" style="left:432px;top:132px;width:33px;height:33px;background:#0d0887"><div style="left:0;width:100%;top:7px">0</div></div><div class="c" style="left:465px;top:132px;width:33px;height:33px;background:#0d0887"><div style="left:0;width:100%;top:7px">0</div></div><div class="c" style="left:498px;top:132px;width:34px;height:33px;background:#0d0887"><div style="left:0;width:100%;top:7px">0</div></div><div class="c" style="left:532px;top:132px;width:33px;height:33px;background:#0d0887"><div style="left:0;width:100%;top:7px">0</div></div><div class="c" style="left:565px;top:132px;width:33px;height:33px;background:#0d0887"><div style="left:0;width:100%;top:7px">0</div></div><div class="c" style="left:598px;top:132px;width:33px;height:33px;background:#0d0887"><div style="left:0;width:100%;top:7px">0</div></div></div>
<div class="tk" style="left:76.8px;top:438px;width:6.2px;height:2px"></div><div class="yt" style="left:10.3px;top:429px;width:60px">3</div><div class="tk" style="left:76.8px;top:471px;width:6.2px;height:2px"></div><div class="yt" style="left:10.3px;top:462px;width:60px">4</div><div class="tk" style="left:76.8px;top:504px;width:6.2px;height:2px"></div><div class="yt" style="left:10.3px;top:495px;width:60px">5</div><div class="tk" style="left:76.8px;top:537px;width:6.2px;height:2px"></div><div class="yt" style="left:10.3px;top:528px;width:60px">6</div><div class="tk" style="left:76.8px;top:570px;width:6.2px;height:2px"></div><div class="yt" style="left:10.3px;top:561px;width:60px">7</div>
<div class="tk" style="left:99px;top:587.3px;width:2px;height:6.2px"></div><div class="xt" style="left:69.6px;top:596px;width:60px">10</div><div class="tk" style="left:132px;top:587.3px;width:2px;height:6.2px"></div><div class="xt" style="left:102.8px;top:596px;width:60px">15</div><div class="tk" style="left:165px;top:587.3px;width:2px;height:6.2px"></div><div class="xt" style="left:136.1px;top:596px;width:60px">20</div><div class="tk" style="left:198px;top:587.3px;width:2px;height:6.2px"></div><div class="xt" style="left:169.3px;top:596px;width:60px">25</div><div class="tk" style="left:232px;top:587.3px;width:2px;height:6.2px"></div><div class="xt" style="left:202.5px;top:596px;width:60px">30</div><div class="tk" style="left:265px;top:587.3px;width:2px;height:6.2px"></div><div class="xt" style="left:235.7px;top:596px;width:60px">35</div><div class="tk" style="left:298px;top:587.3px;width:2px;height:6.2px"></div><div class="xt" style="left:269.0px;top:596px;width:60px">40</div><div class="tk" style="left:331px;top:587.3px;width:2px;height:6.2px"></div><div class="xt" style="left:302.2px;top:596px;width:60px">45</div><div class="tk" style="left:364px;top:587.3px;width:2px;height:6.2px"></div><div class="xt" style="left:335.4px;top:596px;width:60px">50</div><div class="tk" style="left:398px;top:587.3px;width:2px;height:6.2px"></div><div class="xt" style="left:368.6px;top:596px;width:60px">55</div><div class="tk" style="left:431px;top:587.3px;width:2px;height:6.2px"></div><div class="xt" style="left:401.9px;top:596px;width:60px">60</div><div class="tk" style="left:464px;top:587.3px;width:2px;height:6.2px"></div><div class="xt" style="left:435.1px;top:596px;width:60px">65</div><div class="tk" style="left:497px;top:587.3px;width:2px;height:6.2px"></div><div class="xt" style="left:468.3px;top:596px;width:60px">70</div><div class="tk" style="left:531px;top:587.3px;width:2px;height:6.2px"></div><div class="xt" style="left:501.6px;top:596px;width:60px">75</div><div class="tk" style="left:564px;top:587.3px;width:2px;height:6.2px"></div><div class="xt" style="left:534.8px;top:596px;width:60px">80</div><div class="tk" style="left:597px;top:587.3px;width:2px;height:6.2px"></div><div class="xt" style="left:568.0px;top:596px;width:60px">85</div><div class="tk" style="left:630px;top:587.3px;width:2px;height:6.2px"></div><div class="xt" style="left:601.2px;top:596px;width:60px">90</div><div class="tk" style="left:663px;top:587.3px;width:2px;height:6.2px"></div><div class="xt" style="left:634.5px;top:596px;width:60px">95</div><div class="tk" style="left:697px;top:587.3px;width:2px;height:6.2px"></div><div class="xt" style="left:667.7px;top:596px;width:60px">100</div>
<div class="nn" style="left:298.6px;top:618.67px;width:200px;line-height:30px;font-size:23.46px;transform:scaleX(1.05)">NN</div>
<div class="lab" style="left:729.5px;top:504.27px">OPTICS</div>
<div class="N" style="left:8.2px;top:485.96px;line-height:44px;font-size:37.16px">N</div><div class="sc" style="left:32.0px;top:495.26px;line-height:40px;font-size:31.81px">c</div>
<div class="hm" style="left:84px;top:702px;width:635px;height:264px;background:#0d0887"><div class="c" style="left:0px;top:0px;width:33px;height:33px;background:#ef7c51"><div style="left:0;width:100%;top:7px">42</div></div><div class="c" style="left:33px;top:0px;width:33px;height:33px;background:#da5a6a"><div style="left:0;width:100%;top:7px">35</div></div><div class="c" style="left:66px;top:0px;width:34px;height:33px;background:#e3685f"><div style="left:0;width:100%;top:7px">38</div></div><div class="c" style="left:100px;top:0px;width:33px;height:33px;background:#cc4778"><div style="left:0;width:100%;top:7px">31</div></div><div class="c" style="left:133px;top:0px;width:34px;height:33px;background:#cf4c74"><div style="left:0;width:100%;top:7px">32</div></div><div class="c k" style="left:167px;top:0px;width:33px;height:33px;background:#fa9e3b"><div style="left:0;width:100%;top:7px">48</div></div><div class="c k" style="left:200px;top:0px;width:34px;height:33px;background:#fcd025"><div style="left:0;width:100%;top:7px">56</div></div><div class="c k" style="left:234px;top:0px;width:33px;height:33px;background:#fbd724"><div style="left:0;width:100%;top:7px">57</div></div><div class="c k" style="left:267px;top:0px;width:34px;height:33px;background:#f9983e"><div style="left:0;width:100%;top:7px">47</div></div><div class="c" style="left:301px;top:0px;width:33px;height:33px;background:#e97257"><div style="left:0;width:100%;top:7px">40</div></div><div class="c k" style="left:334px;top:0px;width:33px;height:33px;background:#fa9e3b"><div style="left:0;width:100%;top:7px">48</div></div><div class="c" style="left:367px;top:0px;width:34px;height:33px;background:#f3874a"><div style="left:0;width:100%;top:7px">44</div></div><div class="c k" style="left:401px;top:0px;width:33px;height:33px;background:#fa9e3b"><div style="left:0;width:100%;top:7px">48</div></div><div class="c" style="left:434px;top:0px;width:34px;height:33px;background:#cf4c74"><div style="left:0;width:100%;top:7px">32</div></div><div class="c" style="left:468px;top:0px;width:33px;height:33px;background:#f1814d"><div style="left:0;width:100%;top:7px">43</div></div><div class="c" style="left:501px;top:0px;width:34px;height:33px;background:#e06363"><div style="left:0;width:100%;top:7px">37</div></div><div class="c k" style="left:535px;top:0px;width:33px;height:33px;background:#f9983e"><div style="left:0;width:100%;top:7px">47</div></div><div class="c k" style="left:568px;top:0px;width:34px;height:33px;background:#f9dd25"><div style="left:0;width:100%;top:7px">58</div></div><div class="c k" style="left:602px;top:0px;width:33px;height:33px;background:#f2f227"><div style="left:0;width:100%;top:7px">61</div></div><div class="c k" style="left:0px;top:33px;width:33px;height:33px;background:#fca338"><div style="left:0;width:100%;top:7px">49</div></div><div class="c k" style="left:33px;top:33px;width:33px;height:33px;background:#f9983e"><div style="left:0;width:100%;top:7px">47</div></div><div class="c k" style="left:66px;top:33px;width:34px;height:33px;background:#fdb52e"><div style="left:0;width:100%;top:7px">52</div></div><div class="c k" style="left:100px;top:33px;width:33px;height:33px;background:#f7e425"><div style="left:0;width:100%;top:7px">59</div></div><div class="c k" style="left:133px;top:33px;width:34px;height:33px;background:#fdc229"><div style="left:0;width:100%;top:7px">54</div></div><div class="c k" style="left:167px;top:33px;width:33px;height:33px;background:#fca338"><div style="left:0;width:100%;top:7px">49</div></div><div class="c" style="left:200px;top:33px;width:34px;height:33px;background:#da5a6a"><div style="left:0;width:100%;top:7px">35</div></div><div class="c" style="left:234px;top:33px;width:33px;height:33px;background:#e06363"><div style="left:0;width:100%;top:7px">37</div></div><div class="c k" style="left:267px;top:33px;width:34px;height:33px;background:#fca934"><div style="left:0;width:100%;top:7px">50</div></div><div class="c k" style="left:301px;top:33px;width:33px;height:33px;background:#fdb52e"><div style="left:0;width:100%;top:7px">52</div></div><div class="c k" style="left:334px;top:33px;width:33px;height:33px;background:#fca338"><div style="left:0;width:100%;top:7px">49</div></div><div class="c k" style="left:367px;top:33px;width:34px;height:33px;background:#fca338"><div style="left:0;width:100%;top:7px">49</div></div><div class="c k" style="left:401px;top:33px;width:33px;height:33px;background:#fca338"><div style="left:0;width:100%;top:7px">49</div></div><div class="c k" style="left:434px;top:33px;width:34px;height:33px;background:#fbd724"><div style="left:0;width:100%;top:7px">57</div></div><div class="c k" style="left:468px;top:33px;width:33px;height:33px;background:#fca934"><div style="left:0;width:100%;top:7px">50</div></div><div class="c k" style="left:501px;top:33px;width:34px;height:33px;background:#f0f921"><div style="left:0;width:100%;top:7px">62</div></div><div class="c" style="left:535px;top:33px;width:33px;height:33px;background:#e97257"><div style="left:0;width:100%;top:7px">40</div></div><div class="c" style="left:568px;top:33px;width:34px;height:33px;background:#d35171"><div style="left:0;width:100%;top:7px">33</div></div><div class="c" style="left:602px;top:33px;width:33px;height:33px;background:#d35171"><div style="left:0;width:100%;top:7px">33</div></div><div class="c" style="left:0px;top:66px;width:33px;height:33px;background:#4e02a2"><div style="left:0;width:100%;top:7px">8</div></div><div class="c" style="left:33px;top:66px;width:33px;height:33px;background:#7401a8"><div style="left:0;width:100%;top:7px">14</div></div><div class="c" style="left:66px;top:66px;width:34px;height:33px;background:#4e02a2"><div style="left:0;width:100%;top:7px">8</div></div><div class="c" style="left:100px;top:66px;width:33px;height:33px;background:#5502a4"><div style="left:0;width:100%;top:7px">9</div></div><div class="c" style="left:133px;top:66px;width:34px;height:33px;background:#6100a7"><div style="left:0;width:100%;top:7px">11</div></div><div class="c" style="left:167px;top:66px;width:33px;height:33px;background:#220690"><div style="left:0;width:100%;top:7px">2</div></div><div class="c" style="left:200px;top:66px;width:34px;height:33px;background:#5502a4"><div style="left:0;width:100%;top:7px">9</div></div><div class="c" style="left:234px;top:66px;width:33px;height:33px;background:#310597"><div style="left:0;width:100%;top:7px">4</div></div><div class="c" style="left:267px;top:66px;width:34px;height:33px;background:#2a0593"><div style="left:0;width:100%;top:7px">3</div></div><div class="c" style="left:301px;top:66px;width:33px;height:33px;background:#3f049c"><div style="left:0;width:100%;top:7px">6</div></div><div class="c" style="left:334px;top:66px;width:33px;height:33px;background:#220690"><div style="left:0;width:100%;top:7px">2</div></div><div class="c" style="left:367px;top:66px;width:34px;height:33px;background:#46039f"><div style="left:0;width:100%;top:7px">7</div></div><div class="c" style="left:401px;top:66px;width:33px;height:33px;background:#2a0593"><div style="left:0;width:100%;top:7px">3</div></div><div class="c" style="left:434px;top:66px;width:34px;height:33px;background:#4e02a2"><div style="left:0;width:100%;top:7px">8</div></div><div class="c" style="left:468px;top:66px;width:33px;height:33px;background:#46039f"><div style="left:0;width:100%;top:7px">7</div></div><div class="c" style="left:501px;top:66px;width:34px;height:33px;background:#0d0887"><div style="left:0;width:100%;top:7px">0</div></div><div class="c" style="left:535px;top:66px;width:33px;height:33px;background:#5502a4"><div style="left:0;width:100%;top:7px">9</div></div><div class="c" style="left:568px;top:66px;width:34px;height:33px;background:#4e02a2"><div style="left:0;width:100%;top:7px">8</div></div><div class="c" style="left:602px;top:66px;width:33px;height:33px;background:#310597"><div style="left:0;width:100%;top:7px">4</div></div><div class="c" style="left:0px;top:99px;width:33px;height:34px;background:#0d0887"><div style="left:0;width:100%;top:7px">0</div></div><div class="c" style="left:33px;top:99px;width:33px;height:34px;background:#2a0593"><div style="left:0;width:100%;top:7px">3</div></div><div class="c" style="left:66px;top:99px;width:34px;height:34px;background:#19068c"><div style="left:0;width:100%;top:7px">1</div></div><div class="c" style="left:100px;top:99px;width:33px;height:34px;background:#19068c"><div style="left:0;width:100%;top:7px">1</div></div><div class="c" style="left:133px;top:99px;width:34px;height:34px;background:#220690"><div style="left:0;width:100%;top:7px">2</div></div><div class="c" style="left:167px;top:99px;width:33px;height:34px;background:#19068c"><div style="left:0;width:100%;top:7px">1</div></div><div class="c" style="left:200px;top:99px;width:34px;height:34px;background:#0d0887"><div style="left:0;width:100%;top:7px">0</div></div><div class="c" style="left:234px;top:99px;width:33px;height:34px;background:#220690"><div style="left:0;width:100%;top:7px">2</div></div><div class="c" style="left:267px;top:99px;width:34px;height:34px;background:#0d0887"><div style="left:0;width:100%;top:7px">0</div></div><div class="c" style="left:301px;top:99px;width:33px;height:34px;background:#220690"><div style="left:0;width:100%;top:7px">2</div></div><div class="c" style="left:334px;top:99px;width:33px;height:34px;background:#0d0887"><div style="left:0;width:100%;top:7px">0</div></div><div class="c" style="left:367px;top:99px;width:34px;height:34px;background:#0d0887"><div style="left:0;width:100%;top:7px">0</div></div><div class="c" style="left:401px;top:99px;width:33px;height:34px;background:#0d0887"><div style="left:0;width:100%;top:7px">0</div></div><div class="c" style="left:434px;top:99px;width:34px;height:34px;background:#220690"><div style="left:0;width:100%;top:7px">2</div></div><div class="c" style="left:468px;top:99px;width:33px;height:34px;background:#0d0887"><div style="left:0;width:100%;top:7px">0</div></div><div class="c" style="left:501px;top:99px;width:34px;height:34px;background:#19068c"><div style="left:0;width:100%;top:7px">1</div></div><div class="c" style="left:535px;top:99px;width:33px;height:34px;background:#310597"><div style="left:0;width:100%;top:7px">4</div></div><div class="c" style="left:568px;top:99px;width:34px;height:34px;background:#0d0887"><div style="left:0;width:100%;top:7px">0</div></div><div class="c" style="left:602px;top:99px;width:33px;height:34px;background:#220690"><div style="left:0;width:100%;top:7px">2</div></div><div class="c" style="left:0px;top:133px;width:33px;height:33px;background:#0d0887"><div style="left:0;width:100%;top:7px">0</div></div><div class="c" style="left:33px;top:133px;width:33px;height:33px;background:#19068c"><div style="left:0;width:100%;top:7px">1</div></div><div class="c" style="left:66px;top:133px;width:34px;height:33px;background:#19068c"><div style="left:0;width:100%;top:7px">1</div></div><div class="c" style="left:100px;top:133px;width:33px;height:33px;background:#0d0887"><div style="left:0;width:100%;top:7px">0</div></div><div class="c" style="left:133px;top:133px;width:34px;height:33px;background:#19068c"><div style="left:0;width:100%;top:7px">1</div></div><div class="c" style="left:167px;top:133px;width:33px;height:33px;background:#0d0887"><div style="left:0;width:100%;top:7px">0</div></div><div class="c" style="left:200px;top:133px;width:34px;height:33px;background:#0d0887"><div style="left:0;width:100%;top:7px">0</div></div><div class="c" style="left:234px;top:133px;width:33px;height:33px;background:#0d0887"><div style="left:0;width:100%;top:7px">0</div></div><div class="c" style="left:267px;top:133px;width:34px;height:33px;background:#0d0887"><div style="left:0;width:100%;top:7px">0</div></div><div class="c" style="left:301px;top:133px;width:33px;height:33px;background:#0d0887"><div style="left:0;width:100%;top:7px">0</div></div><div class="c" style="left:334px;top:133px;width:33px;height:33px;background:#19068c"><div style="left:0;width:100%;top:7px">1</div></div><div class="c" style="left:367px;top:133px;width:34px;height:33px;background:#0d0887"><div style="left:0;width:100%;top:7px">0</div></div><div class="c" style="left:401px;top:133px;width:33px;height:33px;background:#0d0887"><div style="left:0;width:100%;top:7px">0</div></div><div class="c" style="left:434px;top:133px;width:34px;height:33px;background:#19068c"><div style="left:0;width:100%;top:7px">1</div></div><div class="c" style="left:468px;top:133px;width:33px;height:33px;background:#0d0887"><div style="left:0;width:100%;top:7px">0</div></div><div class="c" style="left:501px;top:133px;width:34px;height:33px;background:#0d0887"><div style="left:0;width:100%;top:7px">0</div></div><div class="c" style="left:535px;top:133px;width:33px;height:33px;background:#0d0887"><div style="left:0;width:100%;top:7px">0</div></div><div class="c" style="left:568px;top:133px;width:34px;height:33px;background:#19068c"><div style="left:0;width:100%;top:7px">1</div></div><div class="c" style="left:602px;top:133px;width:33px;height:33px;background:#0d0887"><div style="left:0;width:100%;top:7px">0</div></div><div class="c" style="left:0px;top:166px;width:33px;height:33px;background:#0d0887"><div style="left:0;width:100%;top:7px">0</div></div><div class="c" style="left:33px;top:166px;width:33px;height:33px;background:#0d0887"><div style="left:0;width:100%;top:7px">0</div></div><div class="c" style="left:66px;top:166px;width:34px;height:33px;background:#0d0887"><div style="left:0;width:100%;top:7px">0</div></div><div class="c" style="left:100px;top:166px;width:33px;height:33px;background:#0d0887"><div style="left:0;width:100%;top:7px">0</div></div><div class="c" style="left:133px;top:166px;width:34px;height:33px;background:#0d0887"><div style="left:0;width:100%;top:7px">0</div></div><div class="c" style="left:167px;top:166px;width:33px;height:33px;background:#0d0887"><div style="left:0;width:100%;top:7px">0</div></div><div class="c" style="left:200px;top:166px;width:34px;height:33px;background:#0d0887"><div style="left:0;width:100%;top:7px">0</div></div><div class="c" style="left:234px;top:166px;width:33px;height:33px;background:#0d0887"><div style="left:0;width:100%;top:7px">0</div></div><div class="c" style="left:267px;top:166px;width:34px;height:33px;background:#0d0887"><div style="left:0;width:100%;top:7px">0</div></div><div class="c" style="left:301px;top:166px;width:33px;height:33px;background:#0d0887"><div style="left:0;width:100%;top:7px">0</div></div><div class="c" style="left:334px;top:166px;width:33px;height:33px;background:#0d0887"><div style="left:0;width:100%;top:7px">0</div></div><div class="c" style="left:367px;top:166px;width:34px;height:33px;background:#0d0887"><div style="left:0;width:100%;top:7px">0</div></div><div class="c" style="left:401px;top:166px;width:33px;height:33px;background:#0d0887"><div style="left:0;width:100%;top:7px">0</div></div><div class="c" style="left:434px;top:166px;width:34px;height:33px;background:#0d0887"><div style="left:0;width:100%;top:7px">0</div></div><div class="c" style="left:468px;top:166px;width:33px;height:33px;background:#0d0887"><div style="left:0;width:100%;top:7px">0</div></div><div class="c" style="left:501px;top:166px;width:34px;height:33px;background:#0d0887"><div style="left:0;width:100%;top:7px">0</div></div><div class="c" style="left:535px;top:166px;width:33px;height:33px;background:#0d0887"><div style="left:0;width:100%;top:7px">0</div></div><div class="c" style="left:568px;top:166px;width:34px;height:33px;background:#0d0887"><div style="left:0;width:100%;top:7px">0</div></div><div class="c" style="left:602px;top:166px;width:33px;height:33px;background:#0d0887"><div style="left:0;width:100%;top:7px">0</div></div><div class="c" style="left:0px;top:199px;width:33px;height:33px;background:#0d0887"><div style="left:0;width:100%;top:7px">0</div></div><div class="c" style="left:33px;top:199px;width:33px;height:33px;background:#0d0887"><div style="left:0;width:100%;top:7px">0</div></div><div class="c" style="left:66px;top:199px;width:34px;height:33px;background:#0d0887"><div style="left:0;width:100%;top:7px">0</div></div><div class="c" style="left:100px;top:199px;width:33px;height:33px;background:#0d0887"><div style="left:0;width:100%;top:7px">0</div></div><div class="c" style="left:133px;top:199px;width:34px;height:33px;background:#0d0887"><div style="left:0;width:100%;top:7px">0</div></div><div class="c" style="left:167px;top:199px;width:33px;height:33px;background:#0d0887"><div style="left:0;width:100%;top:7px">0</div></div><div class="c" style="left:200px;top:199px;width:34px;height:33px;background:#0d0887"><div style="left:0;width:100%;top:7px">0</div></div><div class="c" style="left:234px;top:199px;width:33px;height:33px;background:#0d0887"><div style="left:0;width:100%;top:7px">0</div></div><div class="c" style="left:267px;top:199px;width:34px;height:33px;background:#0d0887"><div style="left:0;width:100%;top:7px">0</div></div><div class="c" style="left:301px;top:199px;width:33px;height:33px;background:#0d0887"><div style="left:0;width:100%;top:7px">0</div></div><div class="c" style="left:334px;top:199px;width:33px;height:33px;background:#0d0887"><div style="left:0;width:100%;top:7px">0</div></div><div class="c" style="left:367px;top:199px;width:34px;height:33px;background:#0d0887"><div style="left:0;width:100%;top:7px">0</div></div><div class="c" style="left:401px;top:199px;width:33px;height:33px;background:#0d0887"><div style="left:0;width:100%;top:7px">0</div></div><div class="c" style="left:434px;top:199px;width:34px;height:33px;background:#0d0887"><div style="left:0;width:100%;top:7px">0</div></div><div class="c" style="left:468px;top:199px;width:33px;height:33px;background:#0d0887"><div style="left:0;width:100%;top:7px">0</div></div><div class="c" style="left:501px;top:199px;width:34px;height:33px;background:#0d0887"><div style="left:0;width:100%;top:7px">0</div></div><div class="c" style="left:535px;top:199px;width:33px;height:33px;background:#0d0887"><div style="left:0;width:100%;top:7px">0</div></div><div class="c" style="left:568px;top:199px;width:34px;height:33px;background:#0d0887"><div style="left:0;width:100%;top:7px">0</div></div><div class="c" style="left:602px;top:199px;width:33px;height:33px;background:#0d0887"><div style="left:0;width:100%;top:7px">0</div></div><div class="c" style="left:0px;top:232px;width:33px;height:34px;background:#19068c"><div style="left:0;width:100%;top:7px">1</div></div><div class="c" style="left:33px;top:232px;width:33px;height:34px;background:#0d0887"><div style="left:0;width:100%;top:7px">0</div></div><div class="c" style="left:66px;top:232px;width:34px;height:34px;background:#0d0887"><div style="left:0;width:100%;top:7px">0</div></div><div class="c" style="left:100px;top:232px;width:33px;height:34px;background:#0d0887"><div style="left:0;width:100%;top:7px">0</div></div><div class="c" style="left:133px;top:232px;width:34px;height:34px;background:#0d0887"><div style="left:0;width:100%;top:7px">0</div></div><div class="c" style="left:167px;top:232px;width:33px;height:34px;background:#0d0887"><div style="left:0;width:100%;top:7px">0</div></div><div class="c" style="left:200px;top:232px;width:34px;height:34px;background:#0d0887"><div style="left:0;width:100%;top:7px">0</div></div><div class="c" style="left:234px;top:232px;width:33px;height:34px;background:#0d0887"><div style="left:0;width:100%;top:7px">0</div></div><div class="c" style="left:267px;top:232px;width:34px;height:34px;background:#0d0887"><div style="left:0;width:100%;top:7px">0</div></div><div class="c" style="left:301px;top:232px;width:33px;height:34px;background:#0d0887"><div style="left:0;width:100%;top:7px">0</div></div><div class="c" style="left:334px;top:232px;width:33px;height:34px;background:#0d0887"><div style="left:0;width:100%;top:7px">0</div></div><div class="c" style="left:367px;top:232px;width:34px;height:34px;background:#0d0887"><div style="left:0;width:100%;top:7px">0</div></div><div class="c" style="left:401px;top:232px;width:33px;height:34px;background:#0d0887"><div style="left:0;width:100%;top:7px">0</div></div><div class="c" style="left:434px;top:232px;width:34px;height:34px;background:#0d0887"><div style="left:0;width:100%;top:7px">0</div></div><div class="c" style="left:468px;top:232px;width:33px;height:34px;background:#0d0887"><div style="left:0;width:100%;top:7px">0</div></div><div class="c" style="left:501px;top:232px;width:34px;height:34px;background:#0d0887"><div style="left:0;width:100%;top:7px">0</div></div><div class="c" style="left:535px;top:232px;width:33px;height:34px;background:#0d0887"><div style="left:0;width:100%;top:7px">0</div></div><div class="c" style="left:568px;top:232px;width:34px;height:34px;background:#0d0887"><div style="left:0;width:100%;top:7px">0</div></div><div class="c" style="left:602px;top:232px;width:33px;height:34px;background:#0d0887"><div style="left:0;width:100%;top:7px">0</div></div></div>
<div class="tk" style="left:77.3px;top:717px;width:6.2px;height:2px"></div><div class="yt" style="left:10.8px;top:708px;width:60px">3</div><div class="tk" style="left:77.3px;top:750px;width:6.2px;height:2px"></div><div class="yt" style="left:10.8px;top:741px;width:60px">4</div><div class="tk" style="left:77.3px;top:784px;width:6.2px;height:2px"></div><div class="yt" style="left:10.8px;top:775px;width:60px">5</div><div class="tk" style="left:77.3px;top:817px;width:6.2px;height:2px"></div><div class="yt" style="left:10.8px;top:808px;width:60px">6</div><div class="tk" style="left:77.3px;top:850px;width:6.2px;height:2px"></div><div class="yt" style="left:10.8px;top:841px;width:60px">7</div><div class="tk" style="left:77.3px;top:883px;width:6.2px;height:2px"></div><div class="yt" style="left:10.8px;top:874px;width:60px">8</div><div class="tk" style="left:77.3px;top:917px;width:6.2px;height:2px"></div><div class="yt" style="left:10.8px;top:908px;width:60px">9</div><div class="tk" style="left:77.3px;top:950px;width:6.2px;height:2px"></div><div class="yt" style="left:10.8px;top:941px;width:60px">10</div>
<div class="lab" style="left:736.0px;top:826.42px">HDBSCAN</div>
<div class="N" style="left:6.6px;top:814.35px;line-height:44px;font-size:37.76px">N</div><div class="sc" style="left:31.0px;top:825.11px;line-height:40px;font-size:28.10px">c</div>
<div class="hm" style="left:85px;top:974px;width:631px;height:229px;background:#0d0887"><div class="c" style="left:0px;top:0px;width:33px;height:33px;background:#9814a0"><div style="left:0;width:100%;top:6px">17</div></div><div class="c" style="left:33px;top:0px;width:33px;height:33px;background:#d24f71"><div style="left:0;width:100%;top:6px">28</div></div><div class="c k" style="left:66px;top:0px;width:34px;height:33px;background:#fcd025"><div style="left:0;width:100%;top:6px">48</div></div><div class="c k" style="left:100px;top:0px;width:33px;height:33px;background:#feba2c"><div style="left:0;width:100%;top:6px">45</div></div><div class="c k" style="left:133px;top:0px;width:33px;height:33px;background:#fdb22f"><div style="left:0;width:100%;top:6px">44</div></div><div class="c k" style="left:166px;top:0px;width:33px;height:33px;background:#fad824"><div style="left:0;width:100%;top:6px">49</div></div><div class="c k" style="left:199px;top:0px;width:33px;height:33px;background:#fcd025"><div style="left:0;width:100%;top:6px">48</div></div><div class="c k" style="left:232px;top:0px;width:34px;height:33px;background:#f0f921"><div style="left:0;width:100%;top:6px">53</div></div><div class="c k" style="left:266px;top:0px;width:33px;height:33px;background:#f9973f"><div style="left:0;width:100%;top:6px">40</div></div><div class="c k" style="left:299px;top:0px;width:33px;height:33px;background:#f8e125"><div style="left:0;width:100%;top:6px">50</div></div><div class="c k" style="left:332px;top:0px;width:33px;height:33px;background:#fcd025"><div style="left:0;width:100%;top:6px">48</div></div><div class="c k" style="left:365px;top:0px;width:33px;height:33px;background:#fa9e3b"><div style="left:0;width:100%;top:6px">41</div></div><div class="c k" style="left:398px;top:0px;width:33px;height:33px;background:#f8e125"><div style="left:0;width:100%;top:6px">50</div></div><div class="c" style="left:431px;top:0px;width:34px;height:33px;background:#f48948"><div style="left:0;width:100%;top:6px">38</div></div><div class="c" style="left:465px;top:0px;width:33px;height:33px;background:#ec7754"><div style="left:0;width:100%;top:6px">35</div></div><div class="c k" style="left:498px;top:0px;width:33px;height:33px;background:#fca338"><div style="left:0;width:100%;top:6px">42</div></div><div class="c" style="left:531px;top:0px;width:33px;height:33px;background:#cd4a76"><div style="left:0;width:100%;top:6px">27</div></div><div class="c k" style="left:564px;top:0px;width:33px;height:33px;background:#fdb22f"><div style="left:0;width:100%;top:6px">44</div></div><div class="c" style="left:597px;top:0px;width:34px;height:33px;background:#ec7754"><div style="left:0;width:100%;top:6px">35</div></div><div class="c" style="left:0px;top:33px;width:33px;height:33px;background:#cd4a76"><div style="left:0;width:100%;top:6px">27</div></div><div class="c" style="left:33px;top:33px;width:33px;height:33px;background:#bb3488"><div style="left:0;width:100%;top:6px">23</div></div><div class="c" style="left:66px;top:33px;width:34px;height:33px;background:#5601a4"><div style="left:0;width:100%;top:6px">8</div></div><div class="c" style="left:100px;top:33px;width:33px;height:33px;background:#6600a7"><div style="left:0;width:100%;top:6px">10</div></div><div class="c" style="left:133px;top:33px;width:33px;height:33px;background:#46039f"><div style="left:0;width:100%;top:6px">6</div></div><div class="c" style="left:166px;top:33px;width:33px;height:33px;background:#6600a7"><div style="left:0;width:100%;top:6px">10</div></div><div class="c" style="left:199px;top:33px;width:33px;height:33px;background:#9814a0"><div style="left:0;width:100%;top:6px">17</div></div><div class="c" style="left:232px;top:33px;width:34px;height:33px;background:#8305a7"><div style="left:0;width:100%;top:6px">14</div></div><div class="c" style="left:266px;top:33px;width:33px;height:33px;background:#9814a0"><div style="left:0;width:100%;top:6px">17</div></div><div class="c" style="left:299px;top:33px;width:33px;height:33px;background:#a31e9a"><div style="left:0;width:100%;top:6px">19</div></div><div class="c" style="left:332px;top:33px;width:33px;height:33px;background:#d24f71"><div style="left:0;width:100%;top:6px">28</div></div><div class="c" style="left:365px;top:33px;width:33px;height:33px;background:#de5f65"><div style="left:0;width:100%;top:6px">31</div></div><div class="c" style="left:398px;top:33px;width:33px;height:33px;background:#c43e7f"><div style="left:0;width:100%;top:6px">25</div></div><div class="c k" style="left:431px;top:33px;width:34px;height:33px;background:#fdc229"><div style="left:0;width:100%;top:6px">46</div></div><div class="c k" style="left:465px;top:33px;width:33px;height:33px;background:#feba2c"><div style="left:0;width:100%;top:6px">45</div></div><div class="c k" style="left:498px;top:33px;width:33px;height:33px;background:#fca338"><div style="left:0;width:100%;top:6px">42</div></div><div class="c k" style="left:531px;top:33px;width:33px;height:33px;background:#fca338"><div style="left:0;width:100%;top:6px">42</div></div><div class="c" style="left:564px;top:33px;width:33px;height:33px;background:#e56b5d"><div style="left:0;width:100%;top:6px">33</div></div><div class="c k" style="left:597px;top:33px;width:34px;height:33px;background:#fdab33"><div style="left:0;width:100%;top:6px">43</div></div><div class="c" style="left:0px;top:66px;width:33px;height:33px;background:#e26561"><div style="left:0;width:100%;top:7px">32</div></div><div class="c" style="left:33px;top:66px;width:33px;height:33px;background:#8a09a5"><div style="left:0;width:100%;top:7px">15</div></div><div class="c" style="left:66px;top:66px;width:34px;height:33px;background:#4e02a2"><div style="left:0;width:100%;top:7px">7</div></div><div class="c" style="left:100px;top:66px;width:33px;height:33px;background:#6e00a8"><div style="left:0;width:100%;top:7px">11</div></div><div class="c" style="left:133px;top:66px;width:33px;height:33px;background:#7401a8"><div style="left:0;width:100%;top:7px">12</div></div><div class="c" style="left:166px;top:66px;width:33px;height:33px;background:#6600a7"><div style="left:0;width:100%;top:7px">10</div></div><div class="c" style="left:199px;top:66px;width:33px;height:33px;background:#910ea3"><div style="left:0;width:100%;top:7px">16</div></div><div class="c" style="left:232px;top:66px;width:34px;height:33px;background:#8a09a5"><div style="left:0;width:100%;top:7px">15</div></div><div class="c" style="left:266px;top:66px;width:33px;height:33px;background:#bb3488"><div style="left:0;width:100%;top:7px">23</div></div><div class="c" style="left:299px;top:66px;width:33px;height:33px;background:#b02991"><div style="left:0;width:100%;top:7px">21</div></div><div class="c" style="left:332px;top:66px;width:33px;height:33px;background:#a31e9a"><div style="left:0;width:100%;top:7px">19</div></div><div class="c" style="left:365px;top:66px;width:33px;height:33px;background:#b02991"><div style="left:0;width:100%;top:7px">21</div></div><div class="c" style="left:398px;top:66px;width:33px;height:33px;background:#a31e9a"><div style="left:0;width:100%;top:7px">19</div></div><div class="c" style="left:431px;top:66px;width:34px;height:33px;background:#5e01a6"><div style="left:0;width:100%;top:7px">9</div></div><div class="c" style="left:465px;top:66px;width:33px;height:33px;background:#7401a8"><div style="left:0;width:100%;top:7px">12</div></div><div class="c" style="left:498px;top:66px;width:33px;height:33px;background:#8a09a5"><div style="left:0;width:100%;top:7px">15</div></div><div class="c" style="left:531px;top:66px;width:33px;height:33px;background:#d6556d"><div style="left:0;width:100%;top:7px">29</div></div><div class="c" style="left:564px;top:66px;width:33px;height:33px;background:#9814a0"><div style="left:0;width:100%;top:7px">17</div></div><div class="c" style="left:597px;top:66px;width:34px;height:33px;background:#b02991"><div style="left:0;width:100%;top:7px">21</div></div><div class="c" style="left:0px;top:99px;width:33px;height:33px;background:#9814a0"><div style="left:0;width:100%;top:7px">17</div></div><div class="c" style="left:33px;top:99px;width:33px;height:33px;background:#b02991"><div style="left:0;width:100%;top:7px">21</div></div><div class="c" style="left:66px;top:99px;width:34px;height:33px;background:#9d189d"><div style="left:0;width:100%;top:7px">18</div></div><div class="c" style="left:100px;top:99px;width:33px;height:33px;background:#8a09a5"><div style="left:0;width:100%;top:7px">15</div></div><div class="c" style="left:133px;top:99px;width:33px;height:33px;background:#9814a0"><div style="left:0;width:100%;top:7px">17</div></div><div class="c" style="left:166px;top:99px;width:33px;height:33px;background:#6600a7"><div style="left:0;width:100%;top:7px">10</div></div><div class="c" style="left:199px;top:99px;width:33px;height:33px;background:#7401a8"><div style="left:0;width:100%;top:7px">12</div></div><div class="c" style="left:232px;top:99px;width:34px;height:33px;background:#7401a8"><div style="left:0;width:100%;top:7px">12</div></div><div class="c" style="left:266px;top:99px;width:33px;height:33px;background:#9d189d"><div style="left:0;width:100%;top:7px">18</div></div><div class="c" style="left:299px;top:99px;width:33px;height:33px;background:#5601a4"><div style="left:0;width:100%;top:7px">8</div></div><div class="c" style="left:332px;top:99px;width:33px;height:33px;background:#3f049c"><div style="left:0;width:100%;top:7px">5</div></div><div class="c" style="left:365px;top:99px;width:33px;height:33px;background:#3f049c"><div style="left:0;width:100%;top:7px">5</div></div><div class="c" style="left:398px;top:99px;width:33px;height:33px;background:#46039f"><div style="left:0;width:100%;top:7px">6</div></div><div class="c" style="left:431px;top:99px;width:34px;height:33px;background:#4e02a2"><div style="left:0;width:100%;top:7px">7</div></div><div class="c" style="left:465px;top:99px;width:33px;height:33px;background:#370499"><div style="left:0;width:100%;top:7px">4</div></div><div class="c" style="left:498px;top:99px;width:33px;height:33px;background:#19068c"><div style="left:0;width:100%;top:7px">1</div></div><div class="c" style="left:531px;top:99px;width:33px;height:33px;background:#19068c"><div style="left:0;width:100%;top:7px">1</div></div><div class="c" style="left:564px;top:99px;width:33px;height:33px;background:#46039f"><div style="left:0;width:100%;top:7px">6</div></div><div class="c" style="left:597px;top:99px;width:34px;height:33px;background:#19068c"><div style="left:0;width:100%;top:7px">1</div></div><div class="c" style="left:0px;top:132px;width:33px;height:33px;background:#4e02a2"><div style="left:0;width:100%;top:7px">7</div></div><div class="c" style="left:33px;top:132px;width:33px;height:33px;background:#6600a7"><div style="left:0;width:100%;top:7px">10</div></div><div class="c" style="left:66px;top:132px;width:34px;height:33px;background:#8305a7"><div style="left:0;width:100%;top:7px">14</div></div><div class="c" style="left:100px;top:132px;width:33px;height:33px;background:#8305a7"><div style="left:0;width:100%;top:7px">14</div></div><div class="c" style="left:133px;top:132px;width:33px;height:33px;background:#910ea3"><div style="left:0;width:100%;top:7px">16</div></div><div class="c" style="left:166px;top:132px;width:33px;height:33px;background:#8305a7"><div style="left:0;width:100%;top:7px">14</div></div><div class="c" style="left:199px;top:132px;width:33px;height:33px;background:#3f049c"><div style="left:0;width:100%;top:7px">5</div></div><div class="c" style="left:232px;top:132px;width:34px;height:33px;background:#3f049c"><div style="left:0;width:100%;top:7px">5</div></div><div class="c" style="left:266px;top:132px;width:33px;height:33px;background:#240691"><div style="left:0;width:100%;top:7px">2</div></div><div class="c" style="left:299px;top:132px;width:33px;height:33px;background:#240691"><div style="left:0;width:100%;top:7px">2</div></div><div class="c" style="left:332px;top:132px;width:33px;height:33px;background:#0d0887"><div style="left:0;width:100%;top:7px">0</div></div><div class="c" style="left:365px;top:132px;width:33px;height:33px;background:#240691"><div style="left:0;width:100%;top:7px">2</div></div><div class="c" style="left:398px;top:132px;width:33px;height:33px;background:#0d0887"><div style="left:0;width:100%;top:7px">0</div></div><div class="c" style="left:431px;top:132px;width:34px;height:33px;background:#0d0887"><div style="left:0;width:100%;top:7px">0</div></div><div class="c" style="left:465px;top:132px;width:33px;height:33px;background:#370499"><div style="left:0;width:100%;top:7px">4</div></div><div class="c" style="left:498px;top:132px;width:33px;height:33px;background:#0d0887"><div style="left:0;width:100%;top:7px">0</div></div><div class="c" style="left:531px;top:132px;width:33px;height:33px;background:#19068c"><div style="left:0;width:100%;top:7px">1</div></div><div class="c" style="left:564px;top:132px;width:33px;height:33px;background:#0d0887"><div style="left:0;width:100%;top:7px">0</div></div><div class="c" style="left:597px;top:132px;width:34px;height:33px;background:#0d0887"><div style="left:0;width:100%;top:7px">0</div></div><div class="c" style="left:0px;top:165px;width:33px;height:33px;background:#0d0887"><div style="left:0;width:100%;top:7px">0</div></div><div class="c" style="left:33px;top:165px;width:33px;height:33px;background:#2e0595"><div style="left:0;width:100%;top:7px">3</div></div><div class="c" style="left:66px;top:165px;width:34px;height:33px;background:#2e0595"><div style="left:0;width:100%;top:7px">3</div></div><div class="c" style="left:100px;top:165px;width:33px;height:33px;background:#370499"><div style="left:0;width:100%;top:7px">4</div></div><div class="c" style="left:133px;top:165px;width:33px;height:33px;background:#240691"><div style="left:0;width:100%;top:7px">2</div></div><div class="c" style="left:166px;top:165px;width:33px;height:33px;background:#46039f"><div style="left:0;width:100%;top:7px">6</div></div><div class="c" style="left:199px;top:165px;width:33px;height:33px;background:#240691"><div style="left:0;width:100%;top:7px">2</div></div><div class="c" style="left:232px;top:165px;width:34px;height:33px;background:#19068c"><div style="left:0;width:100%;top:7px">1</div></div><div class="c" style="left:266px;top:165px;width:33px;height:33px;background:#0d0887"><div style="left:0;width:100%;top:7px">0</div></div><div class="c" style="left:299px;top:165px;width:33px;height:33px;background:#0d0887"><div style="left:0;width:100%;top:7px">0</div></div><div class="c" style="left:332px;top:165px;width:33px;height:33px;background:#0d0887"><div style="left:0;width:100%;top:7px">0</div></div><div class="c" style="left:365px;top:165px;width:33px;height:33px;background:#0d0887"><div style="left:0;width:100%;top:7px">0</div></div><div class="c" style="left:398px;top:165px;width:33px;height:33px;background:#0d0887"><div style="left:0;width:100%;top:7px">0</div></div><div class="c" style="left:431px;top:165px;width:34px;height:33px;background:#0d0887"><div style="left:0;width:100%;top:7px">0</div></div><div class="c" style="left:465px;top:165px;width:33px;height:33px;background:#0d0887"><div style="left:0;width:100%;top:7px">0</div></div><div class="c" style="left:498px;top:165px;width:33px;height:33px;background:#0d0887"><div style="left:0;width:100%;top:7px">0</div></div><div class="c" style="left:531px;top:165px;width:33px;height:33px;background:#0d0887"><div style="left:0;width:100%;top:7px">0</div></div><div class="c" style="left:564px;top:165px;width:33px;height:33px;background:#0d0887"><div style="left:0;width:100%;top:7px">0</div></div><div class="c" style="left:597px;top:165px;width:34px;height:33px;background:#0d0887"><div style="left:0;width:100%;top:7px">0</div></div><div class="c" style="left:0px;top:198px;width:33px;height:33px;background:#0d0887"><div style="left:0;width:100%;top:7px">0</div></div><div class="c" style="left:33px;top:198px;width:33px;height:33px;background:#0d0887"><div style="left:0;width:100%;top:7px">0</div></div><div class="c" style="left:66px;top:198px;width:34px;height:33px;background:#240691"><div style="left:0;width:100%;top:7px">2</div></div><div class="c" style="left:100px;top:198px;width:33px;height:33px;background:#19068c"><div style="left:0;width:100%;top:7px">1</div></div><div class="c" style="left:133px;top:198px;width:33px;height:33px;background:#2e0595"><div style="left:0;width:100%;top:7px">3</div></div><div class="c" style="left:166px;top:198px;width:33px;height:33px;background:#19068c"><div style="left:0;width:100%;top:7px">1</div></div><div class="c" style="left:199px;top:198px;width:33px;height:33px;background:#0d0887"><div style="left:0;width:100%;top:7px">0</div></div><div class="c" style="left:232px;top:198px;width:34px;height:33px;background:#0d0887"><div style="left:0;width:100%;top:7px">0</div></div><div class="c" style="left:266px;top:198px;width:33px;height:33px;background:#0d0887"><div style="left:0;width:100%;top:7px">0</div></div><div class="c" style="left:299px;top:198px;width:33px;height:33px;background:#0d0887"><div style="left:0;width:100%;top:7px">0</div></div><div class="c" style="left:332px;top:198px;width:33px;height:33px;background:#0d0887"><div style="left:0;width:100%;top:7px">0</div></div><div class="c" style="left:365px;top:198px;width:33px;height:33px;background:#0d0887"><div style="left:0;width:100%;top:7px">0</div></div><div class="c" style="left:398px;top:198px;width:33px;height:33px;background:#0d0887"><div style="left:0;width:100%;top:7px">0</div></div><div class="c" style="left:431px;top:198px;width:34px;height:33px;background:#0d0887"><div style="left:0;width:100%;top:7px">0</div></div><div class="c" style="left:465px;top:198px;width:33px;height:33px;background:#0d0887"><div style="left:0;width:100%;top:7px">0</div></div><div class="c" style="left:498px;top:198px;width:33px;height:33px;background:#0d0887"><div style="left:0;width:100%;top:7px">0</div></div><div class="c" style="left:531px;top:198px;width:33px;height:33px;background:#0d0887"><div style="left:0;width:100%;top:7px">0</div></div><div class="c" style="left:564px;top:198px;width:33px;height:33px;background:#0d0887"><div style="left:0;width:100%;top:7px">0</div></div><div class="c" style="left:597px;top:198px;width:34px;height:33px;background:#0d0887"><div style="left:0;width:100%;top:7px">0</div></div></div>
<div class="tk" style="left:78.9px;top:989px;width:6.2px;height:2px"></div><div class="yt" style="left:12.4px;top:980px;width:60px">2</div><div class="tk" style="left:78.9px;top:1022px;width:6.2px;height:2px"></div><div class="yt" style="left:12.4px;top:1013px;width:60px">3</div><div class="tk" style="left:78.9px;top:1055px;width:6.2px;height:2px"></div><div class="yt" style="left:12.4px;top:1046px;width:60px">4</div><div class="tk" style="left:78.9px;top:1088px;width:6.2px;height:2px"></div><div class="yt" style="left:12.4px;top:1079px;width:60px">5</div><div class="tk" style="left:78.9px;top:1121px;width:6.2px;height:2px"></div><div class="yt" style="left:12.4px;top:1112px;width:60px">6</div><div class="tk" style="left:78.9px;top:1155px;width:6.2px;height:2px"></div><div class="yt" style="left:12.4px;top:1145px;width:60px">7</div><div class="tk" style="left:78.9px;top:1188px;width:6.2px;height:2px"></div><div class="yt" style="left:12.4px;top:1179px;width:60px">8</div>
<div class="lab" style="left:736.0px;top:1072.07px">DBSCAN</div>
<div class="N" style="left:8.2px;top:1066.31px;line-height:44px;font-size:37.31px">N</div><div class="sc" style="left:32.0px;top:1076.55px;line-height:40px;font-size:29.19px">c</div>
<div class="hm" style="left:85px;top:1211px;width:629px;height:230px;background:#0d0887"><div class="c" style="left:0px;top:0px;width:33px;height:33px;background:#bc3587"><div style="left:0;width:100%;top:7px">32</div></div><div class="c" style="left:33px;top:0px;width:33px;height:33px;background:#8707a6"><div style="left:0;width:100%;top:7px">20</div></div><div class="c" style="left:66px;top:0px;width:34px;height:33px;background:#7701a8"><div style="left:0;width:100%;top:7px">17</div></div><div class="c" style="left:100px;top:0px;width:33px;height:33px;background:#6c00a8"><div style="left:0;width:100%;top:7px">15</div></div><div class="c" style="left:133px;top:0px;width:33px;height:33px;background:#7d03a8"><div style="left:0;width:100%;top:7px">18</div></div><div class="c" style="left:166px;top:0px;width:33px;height:33px;background:#6c00a8"><div style="left:0;width:100%;top:7px">15</div></div><div class="c" style="left:199px;top:0px;width:33px;height:33px;background:#4b03a1"><div style="left:0;width:100%;top:7px">9</div></div><div class="c" style="left:232px;top:0px;width:33px;height:33px;background:#7d03a8"><div style="left:0;width:100%;top:7px">18</div></div><div class="c" style="left:265px;top:0px;width:33px;height:33px;background:#5c01a6"><div style="left:0;width:100%;top:7px">12</div></div><div class="c" style="left:298px;top:0px;width:33px;height:33px;background:#6100a7"><div style="left:0;width:100%;top:7px">13</div></div><div class="c" style="left:331px;top:0px;width:33px;height:33px;background:#7701a8"><div style="left:0;width:100%;top:7px">17</div></div><div class="c" style="left:364px;top:0px;width:33px;height:33px;background:#7701a8"><div style="left:0;width:100%;top:7px">17</div></div><div class="c" style="left:397px;top:0px;width:33px;height:33px;background:#8104a7"><div style="left:0;width:100%;top:7px">19</div></div><div class="c" style="left:430px;top:0px;width:33px;height:33px;background:#5c01a6"><div style="left:0;width:100%;top:7px">12</div></div><div class="c" style="left:463px;top:0px;width:33px;height:33px;background:#7701a8"><div style="left:0;width:100%;top:7px">17</div></div><div class="c" style="left:496px;top:0px;width:33px;height:33px;background:#6c00a8"><div style="left:0;width:100%;top:7px">15</div></div><div class="c" style="left:529px;top:0px;width:33px;height:33px;background:#6c00a8"><div style="left:0;width:100%;top:7px">15</div></div><div class="c" style="left:562px;top:0px;width:34px;height:33px;background:#6700a8"><div style="left:0;width:100%;top:7px">14</div></div><div class="c" style="left:596px;top:0px;width:33px;height:33px;background:#7d03a8"><div style="left:0;width:100%;top:7px">18</div></div><div class="c" style="left:0px;top:33px;width:33px;height:33px;background:#eb7655"><div style="left:0;width:100%;top:7px">48</div></div><div class="c k" style="left:33px;top:33px;width:33px;height:33px;background:#febe2a"><div style="left:0;width:100%;top:7px">63</div></div><div class="c k" style="left:66px;top:33px;width:34px;height:33px;background:#f0f921"><div style="left:0;width:100%;top:7px">73</div></div><div class="c k" style="left:100px;top:33px;width:33px;height:33px;background:#fcd025"><div style="left:0;width:100%;top:7px">66</div></div><div class="c k" style="left:133px;top:33px;width:33px;height:33px;background:#fca934"><div style="left:0;width:100%;top:7px">59</div></div><div class="c k" style="left:166px;top:33px;width:33px;height:33px;background:#f9dc24"><div style="left:0;width:100%;top:7px">68</div></div><div class="c k" style="left:199px;top:33px;width:33px;height:33px;background:#fca934"><div style="left:0;width:100%;top:7px">59</div></div><div class="c k" style="left:232px;top:33px;width:33px;height:33px;background:#febe2a"><div style="left:0;width:100%;top:7px">63</div></div><div class="c k" style="left:265px;top:33px;width:33px;height:33px;background:#fdb42f"><div style="left:0;width:100%;top:7px">61</div></div><div class="c k" style="left:298px;top:33px;width:33px;height:33px;background:#fdb42f"><div style="left:0;width:100%;top:7px">61</div></div><div class="c k" style="left:331px;top:33px;width:33px;height:33px;background:#fa9b3d"><div style="left:0;width:100%;top:7px">56</div></div><div class="c k" style="left:364px;top:33px;width:33px;height:33px;background:#f9dc24"><div style="left:0;width:100%;top:7px">68</div></div><div class="c k" style="left:397px;top:33px;width:33px;height:33px;background:#fca934"><div style="left:0;width:100%;top:7px">59</div></div><div class="c k" style="left:430px;top:33px;width:33px;height:33px;background:#f9dc24"><div style="left:0;width:100%;top:7px">68</div></div><div class="c k" style="left:463px;top:33px;width:33px;height:33px;background:#fdb42f"><div style="left:0;width:100%;top:7px">61</div></div><div class="c k" style="left:496px;top:33px;width:33px;height:33px;background:#fdc527"><div style="left:0;width:100%;top:7px">64</div></div><div class="c k" style="left:529px;top:33px;width:33px;height:33px;background:#fbd524"><div style="left:0;width:100%;top:7px">67</div></div><div class="c k" style="left:562px;top:33px;width:34px;height:33px;background:#fbd524"><div style="left:0;width:100%;top:7px">67</div></div><div class="c" style="left:596px;top:33px;width:33px;height:33px;background:#e76e5b"><div style="left:0;width:100%;top:7px">46</div></div><div class="c" style="left:0px;top:66px;width:33px;height:33px;background:#6100a7"><div style="left:0;width:100%;top:6px">13</div></div><div class="c" style="left:33px;top:66px;width:33px;height:33px;background:#6700a8"><div style="left:0;width:100%;top:6px">14</div></div><div class="c" style="left:66px;top:66px;width:34px;height:33px;background:#46039f"><div style="left:0;width:100%;top:6px">8</div></div><div class="c" style="left:100px;top:66px;width:33px;height:33px;background:#6100a7"><div style="left:0;width:100%;top:6px">13</div></div><div class="c" style="left:133px;top:66px;width:33px;height:33px;background:#8104a7"><div style="left:0;width:100%;top:6px">19</div></div><div class="c" style="left:166px;top:66px;width:33px;height:33px;background:#5102a3"><div style="left:0;width:100%;top:6px">10</div></div><div class="c" style="left:199px;top:66px;width:33px;height:33px;background:#a72197"><div style="left:0;width:100%;top:6px">27</div></div><div class="c" style="left:232px;top:66px;width:33px;height:33px;background:#7201a8"><div style="left:0;width:100%;top:6px">16</div></div><div class="c" style="left:265px;top:66px;width:33px;height:33px;background:#8104a7"><div style="left:0;width:100%;top:6px">19</div></div><div class="c" style="left:298px;top:66px;width:33px;height:33px;background:#8b0aa5"><div style="left:0;width:100%;top:6px">21</div></div><div class="c" style="left:331px;top:66px;width:33px;height:33px;background:#8b0aa5"><div style="left:0;width:100%;top:6px">21</div></div><div class="c" style="left:364px;top:66px;width:33px;height:33px;background:#5c01a6"><div style="left:0;width:100%;top:6px">12</div></div><div class="c" style="left:397px;top:66px;width:33px;height:33px;background:#6c00a8"><div style="left:0;width:100%;top:6px">15</div></div><div class="c" style="left:430px;top:66px;width:33px;height:33px;background:#7201a8"><div style="left:0;width:100%;top:6px">16</div></div><div class="c" style="left:463px;top:66px;width:33px;height:33px;background:#7d03a8"><div style="left:0;width:100%;top:6px">18</div></div><div class="c" style="left:496px;top:66px;width:33px;height:33px;background:#7d03a8"><div style="left:0;width:100%;top:6px">18</div></div><div class="c" style="left:529px;top:66px;width:33px;height:33px;background:#5c01a6"><div style="left:0;width:100%;top:6px">12</div></div><div class="c" style="left:562px;top:66px;width:34px;height:33px;background:#6700a8"><div style="left:0;width:100%;top:6px">14</div></div><div class="c" style="left:596px;top:66px;width:33px;height:33px;background:#b02991"><div style="left:0;width:100%;top:6px">29</div></div><div class="c" style="left:0px;top:99px;width:33px;height:32px;background:#330597"><div style="left:0;width:100%;top:6px">5</div></div><div class="c" style="left:33px;top:99px;width:33px;height:32px;background:#16078a"><div style="left:0;width:100%;top:6px">1</div></div><div class="c" style="left:66px;top:99px;width:34px;height:32px;background:#16078a"><div style="left:0;width:100%;top:6px">1</div></div><div class="c" style="left:100px;top:99px;width:33px;height:32px;background:#260591"><div style="left:0;width:100%;top:6px">3</div></div><div class="c" style="left:133px;top:99px;width:33px;height:32px;background:#20068f"><div style="left:0;width:100%;top:6px">2</div></div><div class="c" style="left:166px;top:99px;width:33px;height:32px;background:#330597"><div style="left:0;width:100%;top:6px">5</div></div><div class="c" style="left:199px;top:99px;width:33px;height:32px;background:#2e0595"><div style="left:0;width:100%;top:6px">4</div></div><div class="c" style="left:232px;top:99px;width:33px;height:32px;background:#20068f"><div style="left:0;width:100%;top:6px">2</div></div><div class="c" style="left:265px;top:99px;width:33px;height:32px;background:#2e0595"><div style="left:0;width:100%;top:6px">4</div></div><div class="c" style="left:298px;top:99px;width:33px;height:32px;background:#20068f"><div style="left:0;width:100%;top:6px">2</div></div><div class="c" style="left:331px;top:99px;width:33px;height:32px;background:#330597"><div style="left:0;width:100%;top:6px">5</div></div><div class="c" style="left:364px;top:99px;width:33px;height:32px;background:#20068f"><div style="left:0;width:100%;top:6px">2</div></div><div class="c" style="left:397px;top:99px;width:33px;height:32px;background:#330597"><div style="left:0;width:100%;top:6px">5</div></div><div class="c" style="left:430px;top:99px;width:33px;height:32px;background:#260591"><div style="left:0;width:100%;top:6px">3</div></div><div class="c" style="left:463px;top:99px;width:33px;height:32px;background:#16078a"><div style="left:0;width:100%;top:6px">1</div></div><div class="c" style="left:496px;top:99px;width:33px;height:32px;background:#20068f"><div style="left:0;width:100%;top:6px">2</div></div><div class="c" style="left:529px;top:99px;width:33px;height:32px;background:#330597"><div style="left:0;width:100%;top:6px">5</div></div><div class="c" style="left:562px;top:99px;width:34px;height:32px;background:#260591"><div style="left:0;width:100%;top:6px">3</div></div><div class="c" style="left:596px;top:99px;width:33px;height:32px;background:#2e0595"><div style="left:0;width:100%;top:6px">4</div></div><div class="c" style="left:0px;top:131px;width:33px;height:33px;background:#20068f"><div style="left:0;width:100%;top:7px">2</div></div><div class="c" style="left:33px;top:131px;width:33px;height:33px;background:#16078a"><div style="left:0;width:100%;top:7px">1</div></div><div class="c" style="left:66px;top:131px;width:34px;height:33px;background:#16078a"><div style="left:0;width:100%;top:7px">1</div></div><div class="c" style="left:100px;top:131px;width:33px;height:33px;background:#20068f"><div style="left:0;width:100%;top:7px">2</div></div><div class="c" style="left:133px;top:131px;width:33px;height:33px;background:#20068f"><div style="left:0;width:100%;top:7px">2</div></div><div class="c" style="left:166px;top:131px;width:33px;height:33px;background:#20068f"><div style="left:0;width:100%;top:7px">2</div></div><div class="c" style="left:199px;top:131px;width:33px;height:33px;background:#16078a"><div style="left:0;width:100%;top:7px">1</div></div><div class="c" style="left:232px;top:131px;width:33px;height:33px;background:#16078a"><div style="left:0;width:100%;top:7px">1</div></div><div class="c" style="left:265px;top:131px;width:33px;height:33px;background:#20068f"><div style="left:0;width:100%;top:7px">2</div></div><div class="c" style="left:298px;top:131px;width:33px;height:33px;background:#260591"><div style="left:0;width:100%;top:7px">3</div></div><div class="c" style="left:331px;top:131px;width:33px;height:33px;background:#16078a"><div style="left:0;width:100%;top:7px">1</div></div><div class="c" style="left:364px;top:131px;width:33px;height:33px;background:#16078a"><div style="left:0;width:100%;top:7px">1</div></div><div class="c" style="left:397px;top:131px;width:33px;height:33px;background:#20068f"><div style="left:0;width:100%;top:7px">2</div></div><div class="c" style="left:430px;top:131px;width:33px;height:33px;background:#16078a"><div style="left:0;width:100%;top:7px">1</div></div><div class="c" style="left:463px;top:131px;width:33px;height:33px;background:#260591"><div style="left:0;width:100%;top:7px">3</div></div><div class="c" style="left:496px;top:131px;width:33px;height:33px;background:#0d0887"><div style="left:0;width:100%;top:7px">0</div></div><div class="c" style="left:529px;top:131px;width:33px;height:33px;background:#16078a"><div style="left:0;width:100%;top:7px">1</div></div><div class="c" style="left:562px;top:131px;width:34px;height:33px;background:#20068f"><div style="left:0;width:100%;top:7px">2</div></div><div class="c" style="left:596px;top:131px;width:33px;height:33px;background:#260591"><div style="left:0;width:100%;top:7px">3</div></div><div class="c" style="left:0px;top:164px;width:33px;height:33px;background:#0d0887"><div style="left:0;width:100%;top:7px">0</div></div><div class="c" style="left:33px;top:164px;width:33px;height:33px;background:#16078a"><div style="left:0;width:100%;top:7px">1</div></div><div class="c" style="left:66px;top:164px;width:34px;height:33px;background:#0d0887"><div style="left:0;width:100%;top:7px">0</div></div><div class="c" style="left:100px;top:164px;width:33px;height:33px;background:#0d0887"><div style="left:0;width:100%;top:7px">0</div></div><div class="c" style="left:133px;top:164px;width:33px;height:33px;background:#0d0887"><div style="left:0;width:100%;top:7px">0</div></div><div class="c" style="left:166px;top:164px;width:33px;height:33px;background:#0d0887"><div style="left:0;width:100%;top:7px">0</div></div><div class="c" style="left:199px;top:164px;width:33px;height:33px;background:#0d0887"><div style="left:0;width:100%;top:7px">0</div></div><div class="c" style="left:232px;top:164px;width:33px;height:33px;background:#0d0887"><div style="left:0;width:100%;top:7px">0</div></div><div class="c" style="left:265px;top:164px;width:33px;height:33px;background:#20068f"><div style="left:0;width:100%;top:7px">2</div></div><div class="c" style="left:298px;top:164px;width:33px;height:33px;background:#0d0887"><div style="left:0;width:100%;top:7px">0</div></div><div class="c" style="left:331px;top:164px;width:33px;height:33px;background:#0d0887"><div style="left:0;width:100%;top:7px">0</div></div><div class="c" style="left:364px;top:164px;width:33px;height:33px;background:#0d0887"><div style="left:0;width:100%;top:7px">0</div></div><div class="c" style="left:397px;top:164px;width:33px;height:33px;background:#0d0887"><div style="left:0;width:100%;top:7px">0</div></div><div class="c" style="left:430px;top:164px;width:33px;height:33px;background:#0d0887"><div style="left:0;width:100%;top:7px">0</div></div><div class="c" style="left:463px;top:164px;width:33px;height:33px;background:#0d0887"><div style="left:0;width:100%;top:7px">0</div></div><div class="c" style="left:496px;top:164px;width:33px;height:33px;background:#16078a"><div style="left:0;width:100%;top:7px">1</div></div><div class="c" style="left:529px;top:164px;width:33px;height:33px;background:#0d0887"><div style="left:0;width:100%;top:7px">0</div></div><div class="c" style="left:562px;top:164px;width:34px;height:33px;background:#0d0887"><div style="left:0;width:100%;top:7px">0</div></div><div class="c" style="left:596px;top:164px;width:33px;height:33px;background:#0d0887"><div style="left:0;width:100%;top:7px">0</div></div><div class="c" style="left:0px;top:197px;width:33px;height:33px;background:#0d0887"><div style="left:0;width:100%;top:7px">0</div></div><div class="c" style="left:33px;top:197px;width:33px;height:33px;background:#0d0887"><div style="left:0;width:100%;top:7px">0</div></div><div class="c" style="left:66px;top:197px;width:34px;height:33px;background:#0d0887"><div style="left:0;width:100%;top:7px">0</div></div><div class="c" style="left:100px;top:197px;width:33px;height:33px;background:#16078a"><div style="left:0;width:100%;top:7px">1</div></div><div class="c" style="left:133px;top:197px;width:33px;height:33px;background:#0d0887"><div style="left:0;width:100%;top:7px">0</div></div><div class="c" style="left:166px;top:197px;width:33px;height:33px;background:#0d0887"><div style="left:0;width:100%;top:7px">0</div></div><div class="c" style="left:199px;top:197px;width:33px;height:33px;background:#0d0887"><div style="left:0;width:100%;top:7px">0</div></div><div class="c" style="left:232px;top:197px;width:33px;height:33px;background:#0d0887"><div style="left:0;width:100%;top:7px">0</div></div><div class="c" style="left:265px;top:197px;width:33px;height:33px;background:#0d0887"><div style="left:0;width:100%;top:7px">0</div></div><div class="c" style="left:298px;top:197px;width:33px;height:33px;background:#0d0887"><div style="left:0;width:100%;top:7px">0</div></div><div class="c" style="left:331px;top:197px;width:33px;height:33px;background:#0d0887"><div style="left:0;width:100%;top:7px">0</div></div><div class="c" style="left:364px;top:197px;width:33px;height:33px;background:#0d0887"><div style="left:0;width:100%;top:7px">0</div></div><div class="c" style="left:397px;top:197px;width:33px;height:33px;background:#0d0887"><div style="left:0;width:100%;top:7px">0</div></div><div class="c" style="left:430px;top:197px;width:33px;height:33px;background:#0d0887"><div style="left:0;width:100%;top:7px">0</div></div><div class="c" style="left:463px;top:197px;width:33px;height:33px;background:#0d0887"><div style="left:0;width:100%;top:7px">0</div></div><div class="c" style="left:496px;top:197px;width:33px;height:33px;background:#0d0887"><div style="left:0;width:100%;top:7px">0</div></div><div class="c" style="left:529px;top:197px;width:33px;height:33px;background:#0d0887"><div style="left:0;width:100%;top:7px">0</div></div><div class="c" style="left:562px;top:197px;width:34px;height:33px;background:#0d0887"><div style="left:0;width:100%;top:7px">0</div></div><div class="c" style="left:596px;top:197px;width:33px;height:33px;background:#0d0887"><div style="left:0;width:100%;top:7px">0</div></div></div>
<div class="tk" style="left:79.1px;top:1226px;width:6.2px;height:2px"></div><div class="yt" style="left:12.6px;top:1217px;width:60px">2</div><div class="tk" style="left:79.1px;top:1259px;width:6.2px;height:2px"></div><div class="yt" style="left:12.6px;top:1250px;width:60px">3</div><div class="tk" style="left:79.1px;top:1292px;width:6.2px;height:2px"></div><div class="yt" style="left:12.6px;top:1283px;width:60px">4</div><div class="tk" style="left:79.1px;top:1325px;width:6.2px;height:2px"></div><div class="yt" style="left:12.6px;top:1316px;width:60px">5</div><div class="tk" style="left:79.1px;top:1358px;width:6.2px;height:2px"></div><div class="yt" style="left:12.6px;top:1349px;width:60px">6</div><div class="tk" style="left:79.1px;top:1391px;width:6.2px;height:2px"></div><div class="yt" style="left:12.6px;top:1382px;width:60px">7</div><div class="tk" style="left:79.1px;top:1424px;width:6.2px;height:2px"></div><div class="yt" style="left:12.6px;top:1415px;width:60px">8</div>
<div class="tk" style="left:101px;top:1441.0px;width:2px;height:6.2px"></div><div class="xt" style="left:71.8px;top:1451px;width:60px">10</div><div class="tk" style="left:134px;top:1441.0px;width:2px;height:6.2px"></div><div class="xt" style="left:104.9px;top:1451px;width:60px">15</div><div class="tk" style="left:167px;top:1441.0px;width:2px;height:6.2px"></div><div class="xt" style="left:138.0px;top:1451px;width:60px">20</div><div class="tk" style="left:200px;top:1441.0px;width:2px;height:6.2px"></div><div class="xt" style="left:171.0px;top:1451px;width:60px">25</div><div class="tk" style="left:233px;top:1441.0px;width:2px;height:6.2px"></div><div class="xt" style="left:204.1px;top:1451px;width:60px">30</div><div class="tk" style="left:266px;top:1441.0px;width:2px;height:6.2px"></div><div class="xt" style="left:237.2px;top:1451px;width:60px">35</div><div class="tk" style="left:299px;top:1441.0px;width:2px;height:6.2px"></div><div class="xt" style="left:270.2px;top:1451px;width:60px">40</div><div class="tk" style="left:332px;top:1441.0px;width:2px;height:6.2px"></div><div class="xt" style="left:303.3px;top:1451px;width:60px">45</div><div class="tk" style="left:365px;top:1441.0px;width:2px;height:6.2px"></div><div class="xt" style="left:336.4px;top:1451px;width:60px">50</div><div class="tk" style="left:398px;top:1441.0px;width:2px;height:6.2px"></div><div class="xt" style="left:369.5px;top:1451px;width:60px">55</div><div class="tk" style="left:432px;top:1441.0px;width:2px;height:6.2px"></div><div class="xt" style="left:402.5px;top:1451px;width:60px">60</div><div class="tk" style="left:465px;top:1441.0px;width:2px;height:6.2px"></div><div class="xt" style="left:435.6px;top:1451px;width:60px">65</div><div class="tk" style="left:498px;top:1441.0px;width:2px;height:6.2px"></div><div class="xt" style="left:468.7px;top:1451px;width:60px">70</div><div class="tk" style="left:531px;top:1441.0px;width:2px;height:6.2px"></div><div class="xt" style="left:501.7px;top:1451px;width:60px">75</div><div class="tk" style="left:564px;top:1441.0px;width:2px;height:6.2px"></div><div class="xt" style="left:534.8px;top:1451px;width:60px">80</div><div class="tk" style="left:597px;top:1441.0px;width:2px;height:6.2px"></div><div class="xt" style="left:567.9px;top:1451px;width:60px">85</div><div class="tk" style="left:630px;top:1441.0px;width:2px;height:6.2px"></div><div class="xt" style="left:600.9px;top:1451px;width:60px">90</div><div class="tk" style="left:663px;top:1441.0px;width:2px;height:6.2px"></div><div class="xt" style="left:634.0px;top:1451px;width:60px">95</div><div class="tk" style="left:696px;top:1441.0px;width:2px;height:6.2px"></div><div class="xt" style="left:667.1px;top:1451px;width:60px">100</div>
<div class="nn" style="left:299.5px;top:1472.97px;width:200px;line-height:30px;font-size:23.46px;transform:scaleX(1.05)">NN</div>
<div class="lab" style="left:732.4px;top:1318.22px">OPTICS</div>
<div class="N" style="left:11.4px;top:1302.21px;line-height:44px;font-size:37.01px">N</div><div class="sc" style="left:35.8px;top:1312.42px;line-height:40px;font-size:28.98px">c</div>
<div class="hm" style="left:94px;top:1572px;width:628px;height:163px;background:#0d0887"><div class="c" style="left:0px;top:0px;width:33px;height:32px;background:#7e03a8"><div style="left:0;width:100%;top:6px">25</div></div><div class="c" style="left:33px;top:0px;width:33px;height:32px;background:#e76e5b"><div style="left:0;width:100%;top:6px">63</div></div><div class="c" style="left:66px;top:0px;width:33px;height:32px;background:#6600a7"><div style="left:0;width:100%;top:6px">19</div></div><div class="c k" style="left:99px;top:0px;width:33px;height:32px;background:#fdb22f"><div style="left:0;width:100%;top:6px">83</div></div><div class="c k" style="left:132px;top:0px;width:33px;height:32px;background:#fdb22f"><div style="left:0;width:100%;top:6px">83</div></div><div class="c k" style="left:165px;top:0px;width:33px;height:32px;background:#fdb22f"><div style="left:0;width:100%;top:6px">83</div></div><div class="c k" style="left:198px;top:0px;width:33px;height:32px;background:#fdab33"><div style="left:0;width:100%;top:6px">81</div></div><div class="c" style="left:231px;top:0px;width:33px;height:32px;background:#f68d45"><div style="left:0;width:100%;top:6px">73</div></div><div class="c k" style="left:264px;top:0px;width:33px;height:32px;background:#fa9c3c"><div style="left:0;width:100%;top:6px">77</div></div><div class="c k" style="left:297px;top:0px;width:34px;height:32px;background:#fa9c3c"><div style="left:0;width:100%;top:6px">77</div></div><div class="c k" style="left:331px;top:0px;width:33px;height:32px;background:#fca338"><div style="left:0;width:100%;top:6px">79</div></div><div class="c" style="left:364px;top:0px;width:33px;height:32px;background:#ef7e50"><div style="left:0;width:100%;top:6px">68</div></div><div class="c k" style="left:397px;top:0px;width:33px;height:32px;background:#f4ed27"><div style="left:0;width:100%;top:6px">97</div></div><div class="c k" style="left:430px;top:0px;width:33px;height:32px;background:#f3f027"><div style="left:0;width:100%;top:6px">98</div></div><div class="c" style="left:463px;top:0px;width:33px;height:32px;background:#da5b69"><div style="left:0;width:100%;top:6px">57</div></div><div class="c k" style="left:496px;top:0px;width:33px;height:32px;background:#f3f027"><div style="left:0;width:100%;top:6px">98</div></div><div class="c k" style="left:529px;top:0px;width:33px;height:32px;background:#f0f921"><div style="left:0;width:100%;top:6px">100</div></div><div class="c k" style="left:562px;top:0px;width:33px;height:32px;background:#f8df25"><div style="left:0;width:100%;top:6px">94</div></div><div class="c k" style="left:595px;top:0px;width:33px;height:32px;background:#f9dc24"><div style="left:0;width:100%;top:6px">93</div></div><div class="c" style="left:0px;top:32px;width:33px;height:33px;background:#9a169f"><div style="left:0;width:100%;top:7px">33</div></div><div class="c" style="left:33px;top:32px;width:33px;height:33px;background:#5102a3"><div style="left:0;width:100%;top:7px">14</div></div><div class="c" style="left:66px;top:32px;width:33px;height:33px;background:#d9586a"><div style="left:0;width:100%;top:7px">56</div></div><div class="c" style="left:99px;top:32px;width:33px;height:33px;background:#4e02a2"><div style="left:0;width:100%;top:7px">13</div></div><div class="c" style="left:132px;top:32px;width:33px;height:33px;background:#5e01a6"><div style="left:0;width:100%;top:7px">17</div></div><div class="c" style="left:165px;top:32px;width:33px;height:33px;background:#5601a4"><div style="left:0;width:100%;top:7px">15</div></div><div class="c" style="left:198px;top:32px;width:33px;height:33px;background:#6600a7"><div style="left:0;width:100%;top:7px">19</div></div><div class="c" style="left:231px;top:32px;width:33px;height:33px;background:#8606a6"><div style="left:0;width:100%;top:7px">27</div></div><div class="c" style="left:264px;top:32px;width:33px;height:33px;background:#7501a8"><div style="left:0;width:100%;top:7px">23</div></div><div class="c" style="left:297px;top:32px;width:34px;height:33px;background:#7501a8"><div style="left:0;width:100%;top:7px">23</div></div><div class="c" style="left:331px;top:32px;width:33px;height:33px;background:#6a00a8"><div style="left:0;width:100%;top:7px">20</div></div><div class="c" style="left:364px;top:32px;width:33px;height:33px;background:#9613a1"><div style="left:0;width:100%;top:7px">32</div></div><div class="c" style="left:397px;top:32px;width:33px;height:33px;background:#1b068d"><div style="left:0;width:100%;top:7px">2</div></div><div class="c" style="left:430px;top:32px;width:33px;height:33px;background:#1b068d"><div style="left:0;width:100%;top:7px">2</div></div><div class="c" style="left:463px;top:32px;width:33px;height:33px;background:#ba3388"><div style="left:0;width:100%;top:7px">43</div></div><div class="c" style="left:496px;top:32px;width:33px;height:33px;background:#1b068d"><div style="left:0;width:100%;top:7px">2</div></div><div class="c" style="left:529px;top:32px;width:33px;height:33px;background:#0d0887"><div style="left:0;width:100%;top:7px">0</div></div><div class="c" style="left:562px;top:32px;width:33px;height:33px;background:#2a0593"><div style="left:0;width:100%;top:7px">5</div></div><div class="c" style="left:595px;top:32px;width:33px;height:33px;background:#330597"><div style="left:0;width:100%;top:7px">7</div></div><div class="c" style="left:0px;top:65px;width:33px;height:33px;background:#6e00a8"><div style="left:0;width:100%;top:7px">21</div></div><div class="c" style="left:33px;top:65px;width:33px;height:33px;background:#4e02a2"><div style="left:0;width:100%;top:7px">13</div></div><div class="c" style="left:66px;top:65px;width:33px;height:33px;background:#7e03a8"><div style="left:0;width:100%;top:7px">25</div></div><div class="c" style="left:99px;top:65px;width:33px;height:33px;background:#260591"><div style="left:0;width:100%;top:7px">4</div></div><div class="c" style="left:132px;top:65px;width:33px;height:33px;background:#0d0887"><div style="left:0;width:100%;top:7px">0</div></div><div class="c" style="left:165px;top:65px;width:33px;height:33px;background:#1b068d"><div style="left:0;width:100%;top:7px">2</div></div><div class="c" style="left:198px;top:65px;width:33px;height:33px;background:#0d0887"><div style="left:0;width:100%;top:7px">0</div></div><div class="c" style="left:231px;top:65px;width:33px;height:33px;background:#0d0887"><div style="left:0;width:100%;top:7px">0</div></div><div class="c" style="left:264px;top:65px;width:33px;height:33px;background:#0d0887"><div style="left:0;width:100%;top:7px">0</div></div><div class="c" style="left:297px;top:65px;width:34px;height:33px;background:#0d0887"><div style="left:0;width:100%;top:7px">0</div></div><div class="c" style="left:331px;top:65px;width:33px;height:33px;background:#130789"><div style="left:0;width:100%;top:7px">1</div></div><div class="c" style="left:364px;top:65px;width:33px;height:33px;background:#0d0887"><div style="left:0;width:100%;top:7px">0</div></div><div class="c" style="left:397px;top:65px;width:33px;height:33px;background:#130789"><div style="left:0;width:100%;top:7px">1</div></div><div class="c" style="left:430px;top:65px;width:33px;height:33px;background:#0d0887"><div style="left:0;width:100%;top:7px">0</div></div><div class="c" style="left:463px;top:65px;width:33px;height:33px;background:#0d0887"><div style="left:0;width:100%;top:7px">0</div></div><div class="c" style="left:496px;top:65px;width:33px;height:33px;background:#0d0887"><div style="left:0;width:100%;top:7px">0</div></div><div class="c" style="left:529px;top:65px;width:33px;height:33px;background:#0d0887"><div style="left:0;width:100%;top:7px">0</div></div><div class="c" style="left:562px;top:65px;width:33px;height:33px;background:#130789"><div style="left:0;width:100%;top:7px">1</div></div><div class="c" style="left:595px;top:65px;width:33px;height:33px;background:#0d0887"><div style="left:0;width:100%;top:7px">0</div></div><div class="c" style="left:0px;top:98px;width:33px;height:32px;background:#41049d"><div style="left:0;width:100%;top:6px">10</div></div><div class="c" style="left:33px;top:98px;width:33px;height:32px;background:#2f0596"><div style="left:0;width:100%;top:6px">6</div></div><div class="c" style="left:66px;top:98px;width:33px;height:32px;background:#0d0887"><div style="left:0;width:100%;top:6px">0</div></div><div class="c" style="left:99px;top:98px;width:33px;height:32px;background:#0d0887"><div style="left:0;width:100%;top:6px">0</div></div><div class="c" style="left:132px;top:98px;width:33px;height:32px;background:#0d0887"><div style="left:0;width:100%;top:6px">0</div></div><div class="c" style="left:165px;top:98px;width:33px;height:32px;background:#0d0887"><div style="left:0;width:100%;top:6px">0</div></div><div class="c" style="left:198px;top:98px;width:33px;height:32px;background:#0d0887"><div style="left:0;width:100%;top:6px">0</div></div><div class="c" style="left:231px;top:98px;width:33px;height:32px;background:#0d0887"><div style="left:0;width:100%;top:6px">0</div></div><div class="c" style="left:264px;top:98px;width:33px;height:32px;background:#0d0887"><div style="left:0;width:100%;top:6px">0</div></div><div class="c" style="left:297px;top:98px;width:34px;height:32px;background:#0d0887"><div style="left:0;width:100%;top:6px">0</div></div><div class="c" style="left:331px;top:98px;width:33px;height:32px;background:#0d0887"><div style="left:0;width:100%;top:6px">0</div></div><div class="c" style="left:364px;top:98px;width:33px;height:32px;background:#0d0887"><div style="left:0;width:100%;top:6px">0</div></div><div class="c" style="left:397px;top:98px;width:33px;height:32px;background:#0d0887"><div style="left:0;width:100%;top:6px">0</div></div><div class="c" style="left:430px;top:98px;width:33px;height:32px;background:#0d0887"><div style="left:0;width:100%;top:6px">0</div></div><div class="c" style="left:463px;top:98px;width:33px;height:32px;background:#0d0887"><div style="left:0;width:100%;top:6px">0</div></div><div class="c" style="left:496px;top:98px;width:33px;height:32px;background:#0d0887"><div style="left:0;width:100%;top:6px">0</div></div><div class="c" style="left:529px;top:98px;width:33px;height:32px;background:#0d0887"><div style="left:0;width:100%;top:6px">0</div></div><div class="c" style="left:562px;top:98px;width:33px;height:32px;background:#0d0887"><div style="left:0;width:100%;top:6px">0</div></div><div class="c" style="left:595px;top:98px;width:33px;height:32px;background:#0d0887"><div style="left:0;width:100%;top:6px">0</div></div><div class="c" style="left:0px;top:130px;width:33px;height:33px;background:#46039f"><div style="left:0;width:100%;top:7px">11</div></div><div class="c" style="left:33px;top:130px;width:33px;height:33px;background:#260591"><div style="left:0;width:100%;top:7px">4</div></div><div class="c" style="left:66px;top:130px;width:33px;height:33px;background:#0d0887"><div style="left:0;width:100%;top:7px">0</div></div><div class="c" style="left:99px;top:130px;width:33px;height:33px;background:#0d0887"><div style="left:0;width:100%;top:7px">0</div></div><div class="c" style="left:132px;top:130px;width:33px;height:33px;background:#0d0887"><div style="left:0;width:100%;top:7px">0</div></div><div class="c" style="left:165px;top:130px;width:33px;height:33px;background:#0d0887"><div style="left:0;width:100%;top:7px">0</div></div><div class="c" style="left:198px;top:130px;width:33px;height:33px;background:#0d0887"><div style="left:0;width:100%;top:7px">0</div></div><div class="c" style="left:231px;top:130px;width:33px;height:33px;background:#0d0887"><div style="left:0;width:100%;top:7px">0</div></div><div class="c" style="left:264px;top:130px;width:33px;height:33px;background:#0d0887"><div style="left:0;width:100%;top:7px">0</div></div><div class="c" style="left:297px;top:130px;width:34px;height:33px;background:#0d0887"><div style="left:0;width:100%;top:7px">0</div></div><div class="c" style="left:331px;top:130px;width:33px;height:33px;background:#0d0887"><div style="left:0;width:100%;top:7px">0</div></div><div class="c" style="left:364px;top:130px;width:33px;height:33px;background:#0d0887"><div style="left:0;width:100%;top:7px">0</div></div><div class="c" style="left:397px;top:130px;width:33px;height:33px;background:#0d0887"><div style="left:0;width:100%;top:7px">0</div></div><div class="c" style="left:430px;top:130px;width:33px;height:33px;background:#0d0887"><div style="left:0;width:100%;top:7px">0</div></div><div class="c" style="left:463px;top:130px;width:33px;height:33px;background:#0d0887"><div style="left:0;width:100%;top:7px">0</div></div><div class="c" style="left:496px;top:130px;width:33px;height:33px;background:#0d0887"><div style="left:0;width:100%;top:7px">0</div></div><div class="c" style="left:529px;top:130px;width:33px;height:33px;background:#0d0887"><div style="left:0;width:100%;top:7px">0</div></div><div class="c" style="left:562px;top:130px;width:33px;height:33px;background:#0d0887"><div style="left:0;width:100%;top:7px">0</div></div><div class="c" style="left:595px;top:130px;width:33px;height:33px;background:#0d0887"><div style="left:0;width:100%;top:7px">0</div></div></div>
<div class="tk" style="left:87.9px;top:1587px;width:6.2px;height:2px"></div><div class="yt" style="left:21.4px;top:1578px;width:60px">2</div><div class="tk" style="left:87.9px;top:1620px;width:6.2px;height:2px"></div><div class="yt" style="left:21.4px;top:1611px;width:60px">3</div><div class="tk" style="left:87.9px;top:1652px;width:6.2px;height:2px"></div><div class="yt" style="left:21.4px;top:1643px;width:60px">4</div><div class="tk" style="left:87.9px;top:1685px;width:6.2px;height:2px"></div><div class="yt" style="left:21.4px;top:1676px;width:60px">5</div><div class="tk" style="left:87.9px;top:1718px;width:6.2px;height:2px"></div><div class="yt" style="left:21.4px;top:1709px;width:60px">6</div>
<div class="lab" style="left:735.2px;top:1646.97px">HDBSCAN</div>
<div class="N" style="left:19.5px;top:1637.55px;line-height:44px;font-size:37.76px">N</div><div class="sc" style="left:44.2px;top:1647.95px;line-height:40px;font-size:29.19px">c</div>
<div class="hm" style="left:92px;top:1741px;width:631px;height:295px;background:#0d0887"><div class="c" style="left:0px;top:0px;width:33px;height:33px;background:#130789"><div style="left:0;width:100%;top:7px">1</div></div><div class="c" style="left:33px;top:0px;width:33px;height:33px;background:#0d0887"><div style="left:0;width:100%;top:7px">0</div></div><div class="c" style="left:66px;top:0px;width:34px;height:33px;background:#130789"><div style="left:0;width:100%;top:7px">1</div></div><div class="c" style="left:100px;top:0px;width:33px;height:33px;background:#0d0887"><div style="left:0;width:100%;top:7px">0</div></div><div class="c" style="left:133px;top:0px;width:33px;height:33px;background:#0d0887"><div style="left:0;width:100%;top:7px">0</div></div><div class="c" style="left:166px;top:0px;width:33px;height:33px;background:#0d0887"><div style="left:0;width:100%;top:7px">0</div></div><div class="c" style="left:199px;top:0px;width:34px;height:33px;background:#0d0887"><div style="left:0;width:100%;top:7px">0</div></div><div class="c" style="left:233px;top:0px;width:33px;height:33px;background:#0d0887"><div style="left:0;width:100%;top:7px">0</div></div><div class="c" style="left:266px;top:0px;width:33px;height:33px;background:#0d0887"><div style="left:0;width:100%;top:7px">0</div></div><div class="c" style="left:299px;top:0px;width:33px;height:33px;background:#0d0887"><div style="left:0;width:100%;top:7px">0</div></div><div class="c" style="left:332px;top:0px;width:33px;height:33px;background:#0d0887"><div style="left:0;width:100%;top:7px">0</div></div><div class="c" style="left:365px;top:0px;width:34px;height:33px;background:#0d0887"><div style="left:0;width:100%;top:7px">0</div></div><div class="c" style="left:399px;top:0px;width:33px;height:33px;background:#130789"><div style="left:0;width:100%;top:7px">1</div></div><div class="c" style="left:432px;top:0px;width:33px;height:33px;background:#0d0887"><div style="left:0;width:100%;top:7px">0</div></div><div class="c" style="left:465px;top:0px;width:33px;height:33px;background:#130789"><div style="left:0;width:100%;top:7px">1</div></div><div class="c" style="left:498px;top:0px;width:34px;height:33px;background:#0d0887"><div style="left:0;width:100%;top:7px">0</div></div><div class="c" style="left:532px;top:0px;width:33px;height:33px;background:#0d0887"><div style="left:0;width:100%;top:7px">0</div></div><div class="c" style="left:565px;top:0px;width:33px;height:33px;background:#0d0887"><div style="left:0;width:100%;top:7px">0</div></div><div class="c" style="left:598px;top:0px;width:33px;height:33px;background:#0d0887"><div style="left:0;width:100%;top:7px">0</div></div><div class="c" style="left:0px;top:33px;width:33px;height:33px;background:#330597"><div style="left:0;width:100%;top:7px">6</div></div><div class="c" style="left:33px;top:33px;width:33px;height:33px;background:#4c02a1"><div style="left:0;width:100%;top:7px">11</div></div><div class="c" style="left:66px;top:33px;width:34px;height:33px;background:#2e0595"><div style="left:0;width:100%;top:7px">5</div></div><div class="c" style="left:100px;top:33px;width:33px;height:33px;background:#220690"><div style="left:0;width:100%;top:7px">3</div></div><div class="c" style="left:133px;top:33px;width:33px;height:33px;background:#3e049c"><div style="left:0;width:100%;top:7px">8</div></div><div class="c" style="left:166px;top:33px;width:33px;height:33px;background:#1b068d"><div style="left:0;width:100%;top:7px">2</div></div><div class="c" style="left:199px;top:33px;width:34px;height:33px;background:#43039e"><div style="left:0;width:100%;top:7px">9</div></div><div class="c" style="left:233px;top:33px;width:33px;height:33px;background:#280592"><div style="left:0;width:100%;top:7px">4</div></div><div class="c" style="left:266px;top:33px;width:33px;height:33px;background:#48039f"><div style="left:0;width:100%;top:7px">10</div></div><div class="c" style="left:299px;top:33px;width:33px;height:33px;background:#43039e"><div style="left:0;width:100%;top:7px">9</div></div><div class="c" style="left:332px;top:33px;width:33px;height:33px;background:#6900a8"><div style="left:0;width:100%;top:7px">17</div></div><div class="c" style="left:365px;top:33px;width:34px;height:33px;background:#48039f"><div style="left:0;width:100%;top:7px">10</div></div><div class="c" style="left:399px;top:33px;width:33px;height:33px;background:#3e049c"><div style="left:0;width:100%;top:7px">8</div></div><div class="c" style="left:432px;top:33px;width:33px;height:33px;background:#330597"><div style="left:0;width:100%;top:7px">6</div></div><div class="c" style="left:465px;top:33px;width:33px;height:33px;background:#a72197"><div style="left:0;width:100%;top:7px">32</div></div><div class="c" style="left:498px;top:33px;width:34px;height:33px;background:#1b068d"><div style="left:0;width:100%;top:7px">2</div></div><div class="c" style="left:532px;top:33px;width:33px;height:33px;background:#330597"><div style="left:0;width:100%;top:7px">6</div></div><div class="c" style="left:565px;top:33px;width:33px;height:33px;background:#330597"><div style="left:0;width:100%;top:7px">6</div></div><div class="c" style="left:598px;top:33px;width:33px;height:33px;background:#48039f"><div style="left:0;width:100%;top:7px">10</div></div><div class="c" style="left:0px;top:66px;width:33px;height:33px;background:#da5a6a"><div style="left:0;width:100%;top:7px">49</div></div><div class="c k" style="left:33px;top:66px;width:33px;height:33px;background:#fdb130"><div style="left:0;width:100%;top:7px">72</div></div><div class="c k" style="left:66px;top:66px;width:34px;height:33px;background:#f1f525"><div style="left:0;width:100%;top:7px">86</div></div><div class="c k" style="left:100px;top:66px;width:33px;height:33px;background:#fcd225"><div style="left:0;width:100%;top:7px">79</div></div><div class="c k" style="left:133px;top:66px;width:33px;height:33px;background:#fdc827"><div style="left:0;width:100%;top:7px">77</div></div><div class="c k" style="left:166px;top:66px;width:33px;height:33px;background:#f9dc24"><div style="left:0;width:100%;top:7px">81</div></div><div class="c k" style="left:199px;top:66px;width:34px;height:33px;background:#f89441"><div style="left:0;width:100%;top:7px">65</div></div><div class="c k" style="left:233px;top:66px;width:33px;height:33px;background:#f6e626"><div style="left:0;width:100%;top:7px">83</div></div><div class="c k" style="left:266px;top:66px;width:33px;height:33px;background:#feba2c"><div style="left:0;width:100%;top:7px">74</div></div><div class="c k" style="left:299px;top:66px;width:33px;height:33px;background:#f8e125"><div style="left:0;width:100%;top:7px">82</div></div><div class="c k" style="left:332px;top:66px;width:33px;height:33px;background:#fca835"><div style="left:0;width:100%;top:7px">70</div></div><div class="c k" style="left:365px;top:66px;width:34px;height:33px;background:#fdc827"><div style="left:0;width:100%;top:7px">77</div></div><div class="c k" style="left:399px;top:66px;width:33px;height:33px;background:#fccd25"><div style="left:0;width:100%;top:7px">78</div></div><div class="c k" style="left:432px;top:66px;width:33px;height:33px;background:#f5eb27"><div style="left:0;width:100%;top:7px">84</div></div><div class="c k" style="left:465px;top:66px;width:33px;height:33px;background:#f9983e"><div style="left:0;width:100%;top:7px">66</div></div><div class="c k" style="left:498px;top:66px;width:34px;height:33px;background:#f8e125"><div style="left:0;width:100%;top:7px">82</div></div><div class="c k" style="left:532px;top:66px;width:33px;height:33px;background:#f5eb27"><div style="left:0;width:100%;top:7px">84</div></div><div class="c k" style="left:565px;top:66px;width:33px;height:33px;background:#f8e125"><div style="left:0;width:100%;top:7px">82</div></div><div class="c k" style="left:598px;top:66px;width:33px;height:33px;background:#f0f921"><div style="left:0;width:100%;top:7px">87</div></div><div class="c" style="left:0px;top:99px;width:33px;height:34px;background:#a31e9a"><div style="left:0;width:100%;top:7px">31</div></div><div class="c" style="left:33px;top:99px;width:33px;height:34px;background:#5b01a5"><div style="left:0;width:100%;top:7px">14</div></div><div class="c" style="left:66px;top:99px;width:34px;height:34px;background:#38049a"><div style="left:0;width:100%;top:7px">7</div></div><div class="c" style="left:100px;top:99px;width:33px;height:34px;background:#5601a4"><div style="left:0;width:100%;top:7px">13</div></div><div class="c" style="left:133px;top:99px;width:33px;height:34px;background:#5b01a5"><div style="left:0;width:100%;top:7px">14</div></div><div class="c" style="left:166px;top:99px;width:33px;height:34px;background:#6900a8"><div style="left:0;width:100%;top:7px">17</div></div><div class="c" style="left:199px;top:99px;width:34px;height:34px;background:#8707a6"><div style="left:0;width:100%;top:7px">24</div></div><div class="c" style="left:233px;top:99px;width:33px;height:34px;background:#5601a4"><div style="left:0;width:100%;top:7px">13</div></div><div class="c" style="left:266px;top:99px;width:33px;height:34px;background:#5b01a5"><div style="left:0;width:100%;top:7px">14</div></div><div class="c" style="left:299px;top:99px;width:33px;height:34px;background:#43039e"><div style="left:0;width:100%;top:7px">9</div></div><div class="c" style="left:332px;top:99px;width:33px;height:34px;background:#4c02a1"><div style="left:0;width:100%;top:7px">11</div></div><div class="c" style="left:365px;top:99px;width:34px;height:34px;background:#5102a3"><div style="left:0;width:100%;top:7px">12</div></div><div class="c" style="left:399px;top:99px;width:33px;height:34px;background:#5601a4"><div style="left:0;width:100%;top:7px">13</div></div><div class="c" style="left:432px;top:99px;width:33px;height:34px;background:#43039e"><div style="left:0;width:100%;top:7px">9</div></div><div class="c" style="left:465px;top:99px;width:33px;height:34px;background:#130789"><div style="left:0;width:100%;top:7px">1</div></div><div class="c" style="left:498px;top:99px;width:34px;height:34px;background:#6400a7"><div style="left:0;width:100%;top:7px">16</div></div><div class="c" style="left:532px;top:99px;width:33px;height:34px;background:#48039f"><div style="left:0;width:100%;top:7px">10</div></div><div class="c" style="left:565px;top:99px;width:33px;height:34px;background:#4c02a1"><div style="left:0;width:100%;top:7px">11</div></div><div class="c" style="left:598px;top:99px;width:33px;height:34px;background:#220690"><div style="left:0;width:100%;top:7px">3</div></div><div class="c" style="left:0px;top:133px;width:33px;height:33px;background:#48039f"><div style="left:0;width:100%;top:6px">10</div></div><div class="c" style="left:33px;top:133px;width:33px;height:33px;background:#130789"><div style="left:0;width:100%;top:6px">1</div></div><div class="c" style="left:66px;top:133px;width:34px;height:33px;background:#130789"><div style="left:0;width:100%;top:6px">1</div></div><div class="c" style="left:100px;top:133px;width:33px;height:33px;background:#2e0595"><div style="left:0;width:100%;top:6px">5</div></div><div class="c" style="left:133px;top:133px;width:33px;height:33px;background:#130789"><div style="left:0;width:100%;top:6px">1</div></div><div class="c" style="left:166px;top:133px;width:33px;height:33px;background:#0d0887"><div style="left:0;width:100%;top:6px">0</div></div><div class="c" style="left:199px;top:133px;width:34px;height:33px;background:#1b068d"><div style="left:0;width:100%;top:6px">2</div></div><div class="c" style="left:233px;top:133px;width:33px;height:33px;background:#0d0887"><div style="left:0;width:100%;top:6px">0</div></div><div class="c" style="left:266px;top:133px;width:33px;height:33px;background:#1b068d"><div style="left:0;width:100%;top:6px">2</div></div><div class="c" style="left:299px;top:133px;width:33px;height:33px;background:#0d0887"><div style="left:0;width:100%;top:6px">0</div></div><div class="c" style="left:332px;top:133px;width:33px;height:33px;background:#130789"><div style="left:0;width:100%;top:6px">1</div></div><div class="c" style="left:365px;top:133px;width:34px;height:33px;background:#130789"><div style="left:0;width:100%;top:6px">1</div></div><div class="c" style="left:399px;top:133px;width:33px;height:33px;background:#0d0887"><div style="left:0;width:100%;top:6px">0</div></div><div class="c" style="left:432px;top:133px;width:33px;height:33px;background:#130789"><div style="left:0;width:100%;top:6px">1</div></div><div class="c" style="left:465px;top:133px;width:33px;height:33px;background:#0d0887"><div style="left:0;width:100%;top:6px">0</div></div><div class="c" style="left:498px;top:133px;width:34px;height:33px;background:#0d0887"><div style="left:0;width:100%;top:6px">0</div></div><div class="c" style="left:532px;top:133px;width:33px;height:33px;background:#0d0887"><div style="left:0;width:100%;top:6px">0</div></div><div class="c" style="left:565px;top:133px;width:33px;height:33px;background:#130789"><div style="left:0;width:100%;top:6px">1</div></div><div class="c" style="left:598px;top:133px;width:33px;height:33px;background:#0d0887"><div style="left:0;width:100%;top:6px">0</div></div><div class="c" style="left:0px;top:166px;width:33px;height:33px;background:#1b068d"><div style="left:0;width:100%;top:6px">2</div></div><div class="c" style="left:33px;top:166px;width:33px;height:33px;background:#1b068d"><div style="left:0;width:100%;top:6px">2</div></div><div class="c" style="left:66px;top:166px;width:34px;height:33px;background:#0d0887"><div style="left:0;width:100%;top:6px">0</div></div><div class="c" style="left:100px;top:166px;width:33px;height:33px;background:#0d0887"><div style="left:0;width:100%;top:6px">0</div></div><div class="c" style="left:133px;top:166px;width:33px;height:33px;background:#0d0887"><div style="left:0;width:100%;top:6px">0</div></div><div class="c" style="left:166px;top:166px;width:33px;height:33px;background:#0d0887"><div style="left:0;width:100%;top:6px">0</div></div><div class="c" style="left:199px;top:166px;width:34px;height:33px;background:#0d0887"><div style="left:0;width:100%;top:6px">0</div></div><div class="c" style="left:233px;top:166px;width:33px;height:33px;background:#0d0887"><div style="left:0;width:100%;top:6px">0</div></div><div class="c" style="left:266px;top:166px;width:33px;height:33px;background:#0d0887"><div style="left:0;width:100%;top:6px">0</div></div><div class="c" style="left:299px;top:166px;width:33px;height:33px;background:#0d0887"><div style="left:0;width:100%;top:6px">0</div></div><div class="c" style="left:332px;top:166px;width:33px;height:33px;background:#130789"><div style="left:0;width:100%;top:6px">1</div></div><div class="c" style="left:365px;top:166px;width:34px;height:33px;background:#0d0887"><div style="left:0;width:100%;top:6px">0</div></div><div class="c" style="left:399px;top:166px;width:33px;height:33px;background:#0d0887"><div style="left:0;width:100%;top:6px">0</div></div><div class="c" style="left:432px;top:166px;width:33px;height:33px;background:#0d0887"><div style="left:0;width:100%;top:6px">0</div></div><div class="c" style="left:465px;top:166px;width:33px;height:33px;background:#0d0887"><div style="left:0;width:100%;top:6px">0</div></div><div class="c" style="left:498px;top:166px;width:34px;height:33px;background:#0d0887"><div style="left:0;width:100%;top:6px">0</div></div><div class="c" style="left:532px;top:166px;width:33px;height:33px;background:#0d0887"><div style="left:0;width:100%;top:6px">0</div></div><div class="c" style="left:565px;top:166px;width:33px;height:33px;background:#0d0887"><div style="left:0;width:100%;top:6px">0</div></div><div class="c" style="left:598px;top:166px;width:33px;height:33px;background:#0d0887"><div style="left:0;width:100%;top:6px">0</div></div><div class="c" style="left:0px;top:199px;width:33px;height:33px;background:#0d0887"><div style="left:0;width:100%;top:7px">0</div></div><div class="c" style="left:33px;top:199px;width:33px;height:33px;background:#0d0887"><div style="left:0;width:100%;top:7px">0</div></div><div class="c" style="left:66px;top:199px;width:34px;height:33px;background:#0d0887"><div style="left:0;width:100%;top:7px">0</div></div><div class="c" style="left:100px;top:199px;width:33px;height:33px;background:#0d0887"><div style="left:0;width:100%;top:7px">0</div></div><div class="c" style="left:133px;top:199px;width:33px;height:33px;background:#0d0887"><div style="left:0;width:100%;top:7px">0</div></div><div class="c" style="left:166px;top:199px;width:33px;height:33px;background:#0d0887"><div style="left:0;width:100%;top:7px">0</div></div><div class="c" style="left:199px;top:199px;width:34px;height:33px;background:#0d0887"><div style="left:0;width:100%;top:7px">0</div></div><div class="c" style="left:233px;top:199px;width:33px;height:33px;background:#0d0887"><div style="left:0;width:100%;top:7px">0</div></div><div class="c" style="left:266px;top:199px;width:33px;height:33px;background:#0d0887"><div style="left:0;width:100%;top:7px">0</div></div><div class="c" style="left:299px;top:199px;width:33px;height:33px;background:#0d0887"><div style="left:0;width:100%;top:7px">0</div></div><div class="c" style="left:332px;top:199px;width:33px;height:33px;background:#0d0887"><div style="left:0;width:100%;top:7px">0</div></div><div class="c" style="left:365px;top:199px;width:34px;height:33px;background:#0d0887"><div style="left:0;width:100%;top:7px">0</div></div><div class="c" style="left:399px;top:199px;width:33px;height:33px;background:#0d0887"><div style="left:0;width:100%;top:7px">0</div></div><div class="c" style="left:432px;top:199px;width:33px;height:33px;background:#0d0887"><div style="left:0;width:100%;top:7px">0</div></div><div class="c" style="left:465px;top:199px;width:33px;height:33px;background:#0d0887"><div style="left:0;width:100%;top:7px">0</div></div><div class="c" style="left:498px;top:199px;width:34px;height:33px;background:#0d0887"><div style="left:0;width:100%;top:7px">0</div></div><div class="c" style="left:532px;top:199px;width:33px;height:33px;background:#0d0887"><div style="left:0;width:100%;top:7px">0</div></div><div class="c" style="left:565px;top:199px;width:33px;height:33px;background:#0d0887"><div style="left:0;width:100%;top:7px">0</div></div><div class="c" style="left:598px;top:199px;width:33px;height:33px;background:#0d0887"><div style="left:0;width:100%;top:7px">0</div></div><div class="c" style="left:0px;top:232px;width:33px;height:33px;background:#0d0887"><div style="left:0;width:100%;top:7px">0</div></div><div class="c" style="left:33px;top:232px;width:33px;height:33px;background:#0d0887"><div style="left:0;width:100%;top:7px">0</div></div><div class="c" style="left:66px;top:232px;width:34px;height:33px;background:#0d0887"><div style="left:0;width:100%;top:7px">0</div></div><div class="c" style="left:100px;top:232px;width:33px;height:33px;background:#0d0887"><div style="left:0;width:100%;top:7px">0</div></div><div class="c" style="left:133px;top:232px;width:33px;height:33px;background:#0d0887"><div style="left:0;width:100%;top:7px">0</div></div><div class="c" style="left:166px;top:232px;width:33px;height:33px;background:#0d0887"><div style="left:0;width:100%;top:7px">0</div></div><div class="c" style="left:199px;top:232px;width:34px;height:33px;background:#0d0887"><div style="left:0;width:100%;top:7px">0</div></div><div class="c" style="left:233px;top:232px;width:33px;height:33px;background:#0d0887"><div style="left:0;width:100%;top:7px">0</div></div><div class="c" style="left:266px;top:232px;width:33px;height:33px;background:#0d0887"><div style="left:0;width:100%;top:7px">0</div></div><div class="c" style="left:299px;top:232px;width:33px;height:33px;background:#0d0887"><div style="left:0;width:100%;top:7px">0</div></div><div class="c" style="left:332px;top:232px;width:33px;height:33px;background:#0d0887"><div style="left:0;width:100%;top:7px">0</div></div><div class="c" style="left:365px;top:232px;width:34px;height:33px;background:#0d0887"><div style="left:0;width:100%;top:7px">0</div></div><div class="c" style="left:399px;top:232px;width:33px;height:33px;background:#0d0887"><div style="left:0;width:100%;top:7px">0</div></div><div class="c" style="left:432px;top:232px;width:33px;height:33px;background:#0d0887"><div style="left:0;width:100%;top:7px">0</div></div><div class="c" style="left:465px;top:232px;width:33px;height:33px;background:#0d0887"><div style="left:0;width:100%;top:7px">0</div></div><div class="c" style="left:498px;top:232px;width:34px;height:33px;background:#0d0887"><div style="left:0;width:100%;top:7px">0</div></div><div class="c" style="left:532px;top:232px;width:33px;height:33px;background:#0d0887"><div style="left:0;width:100%;top:7px">0</div></div><div class="c" style="left:565px;top:232px;width:33px;height:33px;background:#0d0887"><div style="left:0;width:100%;top:7px">0</div></div><div class="c" style="left:598px;top:232px;width:33px;height:33px;background:#0d0887"><div style="left:0;width:100%;top:7px">0</div></div><div class="c" style="left:0px;top:265px;width:33px;height:33px;background:#130789"><div style="left:0;width:100%;top:7px">1</div></div><div class="c" style="left:33px;top:265px;width:33px;height:33px;background:#0d0887"><div style="left:0;width:100%;top:7px">0</div></div><div class="c" style="left:66px;top:265px;width:34px;height:33px;background:#0d0887"><div style="left:0;width:100%;top:7px">0</div></div><div class="c" style="left:100px;top:265px;width:33px;height:33px;background:#0d0887"><div style="left:0;width:100%;top:7px">0</div></div><div class="c" style="left:133px;top:265px;width:33px;height:33px;background:#0d0887"><div style="left:0;width:100%;top:7px">0</div></div><div class="c" style="left:166px;top:265px;width:33px;height:33px;background:#0d0887"><div style="left:0;width:100%;top:7px">0</div></div><div class="c" style="left:199px;top:265px;width:34px;height:33px;background:#0d0887"><div style="left:0;width:100%;top:7px">0</div></div><div class="c" style="left:233px;top:265px;width:33px;height:33px;background:#0d0887"><div style="left:0;width:100%;top:7px">0</div></div><div class="c" style="left:266px;top:265px;width:33px;height:33px;background:#0d0887"><div style="left:0;width:100%;top:7px">0</div></div><div class="c" style="left:299px;top:265px;width:33px;height:33px;background:#0d0887"><div style="left:0;width:100%;top:7px">0</div></div><div class="c" style="left:332px;top:265px;width:33px;height:33px;background:#0d0887"><div style="left:0;width:100%;top:7px">0</div></div><div class="c" style="left:365px;top:265px;width:34px;height:33px;background:#0d0887"><div style="left:0;width:100%;top:7px">0</div></div><div class="c" style="left:399px;top:265px;width:33px;height:33px;background:#0d0887"><div style="left:0;width:100%;top:7px">0</div></div><div class="c" style="left:432px;top:265px;width:33px;height:33px;background:#0d0887"><div style="left:0;width:100%;top:7px">0</div></div><div class="c" style="left:465px;top:265px;width:33px;height:33px;background:#0d0887"><div style="left:0;width:100%;top:7px">0</div></div><div class="c" style="left:498px;top:265px;width:34px;height:33px;background:#0d0887"><div style="left:0;width:100%;top:7px">0</div></div><div class="c" style="left:532px;top:265px;width:33px;height:33px;background:#0d0887"><div style="left:0;width:100%;top:7px">0</div></div><div class="c" style="left:565px;top:265px;width:33px;height:33px;background:#0d0887"><div style="left:0;width:100%;top:7px">0</div></div><div class="c" style="left:598px;top:265px;width:33px;height:33px;background:#0d0887"><div style="left:0;width:100%;top:7px">0</div></div></div>
<div class="tk" style="left:85.8px;top:1757px;width:6.2px;height:2px"></div><div class="yt" style="left:19.3px;top:1748px;width:60px">2</div><div class="tk" style="left:85.8px;top:1790px;width:6.2px;height:2px"></div><div class="yt" style="left:19.3px;top:1781px;width:60px">3</div><div class="tk" style="left:85.8px;top:1823px;width:6.2px;height:2px"></div><div class="yt" style="left:19.3px;top:1814px;width:60px">4</div><div class="tk" style="left:85.8px;top:1856px;width:6.2px;height:2px"></div><div class="yt" style="left:19.3px;top:1847px;width:60px">5</div><div class="tk" style="left:85.8px;top:1889px;width:6.2px;height:2px"></div><div class="yt" style="left:19.3px;top:1880px;width:60px">6</div><div class="tk" style="left:85.8px;top:1922px;width:6.2px;height:2px"></div><div class="yt" style="left:19.3px;top:1913px;width:60px">7</div><div class="tk" style="left:85.8px;top:1955px;width:6.2px;height:2px"></div><div class="yt" style="left:19.3px;top:1946px;width:60px">8</div><div class="tk" style="left:85.8px;top:1988px;width:6.2px;height:2px"></div><div class="yt" style="left:19.3px;top:1979px;width:60px">9</div><div class="tk" style="left:85.8px;top:2021px;width:6.2px;height:2px"></div><div class="yt" style="left:19.3px;top:2012px;width:60px">10</div>
<div class="lab" style="left:731.6px;top:1924.27px">DBSCAN</div>
<div class="N" style="left:20.3px;top:1889.81px;line-height:44px;font-size:37.01px">N</div><div class="sc" style="left:45.0px;top:1900.13px;line-height:40px;font-size:29.85px">c</div>
<div class="hm" style="left:93px;top:2044px;width:633px;height:230px;background:#0d0887"><div class="c" style="left:0px;top:0px;width:33px;height:33px;background:#240691"><div style="left:0;width:100%;top:7px">3</div></div><div class="c" style="left:33px;top:0px;width:33px;height:33px;background:#0d0887"><div style="left:0;width:100%;top:7px">0</div></div><div class="c" style="left:66px;top:0px;width:34px;height:33px;background:#0d0887"><div style="left:0;width:100%;top:7px">0</div></div><div class="c" style="left:100px;top:0px;width:33px;height:33px;background:#0d0887"><div style="left:0;width:100%;top:7px">0</div></div><div class="c" style="left:133px;top:0px;width:33px;height:33px;background:#0d0887"><div style="left:0;width:100%;top:7px">0</div></div><div class="c" style="left:166px;top:0px;width:34px;height:33px;background:#16078a"><div style="left:0;width:100%;top:7px">1</div></div><div class="c" style="left:200px;top:0px;width:33px;height:33px;background:#16078a"><div style="left:0;width:100%;top:7px">1</div></div><div class="c" style="left:233px;top:0px;width:33px;height:33px;background:#1d068e"><div style="left:0;width:100%;top:7px">2</div></div><div class="c" style="left:266px;top:0px;width:34px;height:33px;background:#16078a"><div style="left:0;width:100%;top:7px">1</div></div><div class="c" style="left:300px;top:0px;width:33px;height:33px;background:#0d0887"><div style="left:0;width:100%;top:7px">0</div></div><div class="c" style="left:333px;top:0px;width:33px;height:33px;background:#16078a"><div style="left:0;width:100%;top:7px">1</div></div><div class="c" style="left:366px;top:0px;width:33px;height:33px;background:#16078a"><div style="left:0;width:100%;top:7px">1</div></div><div class="c" style="left:399px;top:0px;width:34px;height:33px;background:#16078a"><div style="left:0;width:100%;top:7px">1</div></div><div class="c" style="left:433px;top:0px;width:33px;height:33px;background:#0d0887"><div style="left:0;width:100%;top:7px">0</div></div><div class="c" style="left:466px;top:0px;width:33px;height:33px;background:#0d0887"><div style="left:0;width:100%;top:7px">0</div></div><div class="c" style="left:499px;top:0px;width:34px;height:33px;background:#0d0887"><div style="left:0;width:100%;top:7px">0</div></div><div class="c" style="left:533px;top:0px;width:33px;height:33px;background:#0d0887"><div style="left:0;width:100%;top:7px">0</div></div><div class="c" style="left:566px;top:0px;width:33px;height:33px;background:#0d0887"><div style="left:0;width:100%;top:7px">0</div></div><div class="c" style="left:599px;top:0px;width:34px;height:33px;background:#0d0887"><div style="left:0;width:100%;top:7px">0</div></div><div class="c" style="left:0px;top:33px;width:33px;height:33px;background:#d8576b"><div style="left:0;width:100%;top:7px">43</div></div><div class="c" style="left:33px;top:33px;width:33px;height:33px;background:#e76f5a"><div style="left:0;width:100%;top:7px">49</div></div><div class="c" style="left:66px;top:33px;width:34px;height:33px;background:#d8576b"><div style="left:0;width:100%;top:7px">43</div></div><div class="c" style="left:100px;top:33px;width:33px;height:33px;background:#ee7b51"><div style="left:0;width:100%;top:7px">52</div></div><div class="c" style="left:133px;top:33px;width:33px;height:33px;background:#f0804e"><div style="left:0;width:100%;top:7px">53</div></div><div class="c" style="left:166px;top:33px;width:34px;height:33px;background:#f0804e"><div style="left:0;width:100%;top:7px">53</div></div><div class="c k" style="left:200px;top:33px;width:33px;height:33px;background:#fdb22f"><div style="left:0;width:100%;top:7px">64</div></div><div class="c k" style="left:233px;top:33px;width:33px;height:33px;background:#febd2a"><div style="left:0;width:100%;top:7px">66</div></div><div class="c k" style="left:266px;top:33px;width:34px;height:33px;background:#fccd25"><div style="left:0;width:100%;top:7px">69</div></div><div class="c k" style="left:300px;top:33px;width:33px;height:33px;background:#fa9b3d"><div style="left:0;width:100%;top:7px">59</div></div><div class="c k" style="left:333px;top:33px;width:33px;height:33px;background:#f0f921"><div style="left:0;width:100%;top:7px">77</div></div><div class="c k" style="left:366px;top:33px;width:33px;height:33px;background:#fdc229"><div style="left:0;width:100%;top:7px">67</div></div><div class="c k" style="left:399px;top:33px;width:34px;height:33px;background:#fcd225"><div style="left:0;width:100%;top:7px">70</div></div><div class="c k" style="left:433px;top:33px;width:33px;height:33px;background:#fb9f3a"><div style="left:0;width:100%;top:7px">60</div></div><div class="c k" style="left:466px;top:33px;width:33px;height:33px;background:#f7e225"><div style="left:0;width:100%;top:7px">73</div></div><div class="c k" style="left:499px;top:33px;width:34px;height:33px;background:#fad824"><div style="left:0;width:100%;top:7px">71</div></div><div class="c k" style="left:533px;top:33px;width:33px;height:33px;background:#fb9f3a"><div style="left:0;width:100%;top:7px">60</div></div><div class="c k" style="left:566px;top:33px;width:33px;height:33px;background:#fdc229"><div style="left:0;width:100%;top:7px">67</div></div><div class="c k" style="left:599px;top:33px;width:34px;height:33px;background:#fa9b3d"><div style="left:0;width:100%;top:7px">59</div></div><div class="c" style="left:0px;top:66px;width:33px;height:33px;background:#c7427c"><div style="left:0;width:100%;top:7px">37</div></div><div class="c" style="left:33px;top:66px;width:33px;height:33px;background:#de5f65"><div style="left:0;width:100%;top:7px">45</div></div><div class="c" style="left:66px;top:66px;width:34px;height:33px;background:#f2844b"><div style="left:0;width:100%;top:7px">54</div></div><div class="c" style="left:100px;top:66px;width:33px;height:33px;background:#de5f65"><div style="left:0;width:100%;top:7px">45</div></div><div class="c" style="left:133px;top:66px;width:33px;height:33px;background:#de5f65"><div style="left:0;width:100%;top:7px">45</div></div><div class="c" style="left:166px;top:66px;width:34px;height:33px;background:#d8576b"><div style="left:0;width:100%;top:7px">43</div></div><div class="c" style="left:200px;top:66px;width:33px;height:33px;background:#b52f8c"><div style="left:0;width:100%;top:7px">32</div></div><div class="c" style="left:233px;top:66px;width:33px;height:33px;background:#aa2395"><div style="left:0;width:100%;top:7px">29</div></div><div class="c" style="left:266px;top:66px;width:34px;height:33px;background:#a11b9b"><div style="left:0;width:100%;top:7px">27</div></div><div class="c" style="left:300px;top:66px;width:33px;height:33px;background:#c03a83"><div style="left:0;width:100%;top:7px">35</div></div><div class="c" style="left:333px;top:66px;width:33px;height:33px;background:#6e00a8"><div style="left:0;width:100%;top:7px">16</div></div><div class="c" style="left:366px;top:66px;width:33px;height:33px;background:#a62098"><div style="left:0;width:100%;top:7px">28</div></div><div class="c" style="left:399px;top:66px;width:34px;height:33px;background:#9d189d"><div style="left:0;width:100%;top:7px">26</div></div><div class="c" style="left:433px;top:66px;width:33px;height:33px;background:#ca457a"><div style="left:0;width:100%;top:7px">38</div></div><div class="c" style="left:466px;top:66px;width:33px;height:33px;background:#99159f"><div style="left:0;width:100%;top:7px">25</div></div><div class="c" style="left:499px;top:66px;width:34px;height:33px;background:#99159f"><div style="left:0;width:100%;top:7px">25</div></div><div class="c" style="left:533px;top:66px;width:33px;height:33px;background:#c33d80"><div style="left:0;width:100%;top:7px">36</div></div><div class="c" style="left:566px;top:66px;width:33px;height:33px;background:#a62098"><div style="left:0;width:100%;top:7px">28</div></div><div class="c" style="left:599px;top:66px;width:34px;height:33px;background:#ca457a"><div style="left:0;width:100%;top:7px">38</div></div><div class="c" style="left:0px;top:99px;width:33px;height:33px;background:#6300a7"><div style="left:0;width:100%;top:7px">14</div></div><div class="c" style="left:33px;top:99px;width:33px;height:33px;background:#370499"><div style="left:0;width:100%;top:7px">6</div></div><div class="c" style="left:66px;top:99px;width:34px;height:33px;background:#16078a"><div style="left:0;width:100%;top:7px">1</div></div><div class="c" style="left:100px;top:99px;width:33px;height:33px;background:#1d068e"><div style="left:0;width:100%;top:7px">2</div></div><div class="c" style="left:133px;top:99px;width:33px;height:33px;background:#16078a"><div style="left:0;width:100%;top:7px">1</div></div><div class="c" style="left:166px;top:99px;width:34px;height:33px;background:#1d068e"><div style="left:0;width:100%;top:7px">2</div></div><div class="c" style="left:200px;top:99px;width:33px;height:33px;background:#1d068e"><div style="left:0;width:100%;top:7px">2</div></div><div class="c" style="left:233px;top:99px;width:33px;height:33px;background:#240691"><div style="left:0;width:100%;top:7px">3</div></div><div class="c" style="left:266px;top:99px;width:34px;height:33px;background:#1d068e"><div style="left:0;width:100%;top:7px">2</div></div><div class="c" style="left:300px;top:99px;width:33px;height:33px;background:#310597"><div style="left:0;width:100%;top:7px">5</div></div><div class="c" style="left:333px;top:99px;width:33px;height:33px;background:#2c0594"><div style="left:0;width:100%;top:7px">4</div></div><div class="c" style="left:366px;top:99px;width:33px;height:33px;background:#240691"><div style="left:0;width:100%;top:7px">3</div></div><div class="c" style="left:399px;top:99px;width:34px;height:33px;background:#1d068e"><div style="left:0;width:100%;top:7px">2</div></div><div class="c" style="left:433px;top:99px;width:33px;height:33px;background:#16078a"><div style="left:0;width:100%;top:7px">1</div></div><div class="c" style="left:466px;top:99px;width:33px;height:33px;background:#16078a"><div style="left:0;width:100%;top:7px">1</div></div><div class="c" style="left:499px;top:99px;width:34px;height:33px;background:#1d068e"><div style="left:0;width:100%;top:7px">2</div></div><div class="c" style="left:533px;top:99px;width:33px;height:33px;background:#2c0594"><div style="left:0;width:100%;top:7px">4</div></div><div class="c" style="left:566px;top:99px;width:33px;height:33px;background:#2c0594"><div style="left:0;width:100%;top:7px">4</div></div><div class="c" style="left:599px;top:99px;width:34px;height:33px;background:#16078a"><div style="left:0;width:100%;top:7px">1</div></div><div class="c" style="left:0px;top:132px;width:33px;height:33px;background:#1d068e"><div style="left:0;width:100%;top:7px">2</div></div><div class="c" style="left:33px;top:132px;width:33px;height:33px;background:#0d0887"><div style="left:0;width:100%;top:7px">0</div></div><div class="c" style="left:66px;top:132px;width:34px;height:33px;background:#1d068e"><div style="left:0;width:100%;top:7px">2</div></div><div class="c" style="left:100px;top:132px;width:33px;height:33px;background:#16078a"><div style="left:0;width:100%;top:7px">1</div></div><div class="c" style="left:133px;top:132px;width:33px;height:33px;background:#16078a"><div style="left:0;width:100%;top:7px">1</div></div><div class="c" style="left:166px;top:132px;width:34px;height:33px;background:#16078a"><div style="left:0;width:100%;top:7px">1</div></div><div class="c" style="left:200px;top:132px;width:33px;height:33px;background:#16078a"><div style="left:0;width:100%;top:7px">1</div></div><div class="c" style="left:233px;top:132px;width:33px;height:33px;background:#0d0887"><div style="left:0;width:100%;top:7px">0</div></div><div class="c" style="left:266px;top:132px;width:34px;height:33px;background:#16078a"><div style="left:0;width:100%;top:7px">1</div></div><div class="c" style="left:300px;top:132px;width:33px;height:33px;background:#16078a"><div style="left:0;width:100%;top:7px">1</div></div><div class="c" style="left:333px;top:132px;width:33px;height:33px;background:#1d068e"><div style="left:0;width:100%;top:7px">2</div></div><div class="c" style="left:366px;top:132px;width:33px;height:33px;background:#16078a"><div style="left:0;width:100%;top:7px">1</div></div><div class="c" style="left:399px;top:132px;width:34px;height:33px;background:#16078a"><div style="left:0;width:100%;top:7px">1</div></div><div class="c" style="left:433px;top:132px;width:33px;height:33px;background:#16078a"><div style="left:0;width:100%;top:7px">1</div></div><div class="c" style="left:466px;top:132px;width:33px;height:33px;background:#16078a"><div style="left:0;width:100%;top:7px">1</div></div><div class="c" style="left:499px;top:132px;width:34px;height:33px;background:#1d068e"><div style="left:0;width:100%;top:7px">2</div></div><div class="c" style="left:533px;top:132px;width:33px;height:33px;background:#0d0887"><div style="left:0;width:100%;top:7px">0</div></div><div class="c" style="left:566px;top:132px;width:33px;height:33px;background:#0d0887"><div style="left:0;width:100%;top:7px">0</div></div><div class="c" style="left:599px;top:132px;width:34px;height:33px;background:#1d068e"><div style="left:0;width:100%;top:7px">2</div></div><div class="c" style="left:0px;top:165px;width:33px;height:33px;background:#0d0887"><div style="left:0;width:100%;top:7px">0</div></div><div class="c" style="left:33px;top:165px;width:33px;height:33px;background:#0d0887"><div style="left:0;width:100%;top:7px">0</div></div><div class="c" style="left:66px;top:165px;width:34px;height:33px;background:#0d0887"><div style="left:0;width:100%;top:7px">0</div></div><div class="c" style="left:100px;top:165px;width:33px;height:33px;background:#0d0887"><div style="left:0;width:100%;top:7px">0</div></div><div class="c" style="left:133px;top:165px;width:33px;height:33px;background:#0d0887"><div style="left:0;width:100%;top:7px">0</div></div><div class="c" style="left:166px;top:165px;width:34px;height:33px;background:#0d0887"><div style="left:0;width:100%;top:7px">0</div></div><div class="c" style="left:200px;top:165px;width:33px;height:33px;background:#0d0887"><div style="left:0;width:100%;top:7px">0</div></div><div class="c" style="left:233px;top:165px;width:33px;height:33px;background:#0d0887"><div style="left:0;width:100%;top:7px">0</div></div><div class="c" style="left:266px;top:165px;width:34px;height:33px;background:#0d0887"><div style="left:0;width:100%;top:7px">0</div></div><div class="c" style="left:300px;top:165px;width:33px;height:33px;background:#0d0887"><div style="left:0;width:100%;top:7px">0</div></div><div class="c" style="left:333px;top:165px;width:33px;height:33px;background:#0d0887"><div style="left:0;width:100%;top:7px">0</div></div><div class="c" style="left:366px;top:165px;width:33px;height:33px;background:#0d0887"><div style="left:0;width:100%;top:7px">0</div></div><div class="c" style="left:399px;top:165px;width:34px;height:33px;background:#0d0887"><div style="left:0;width:100%;top:7px">0</div></div><div class="c" style="left:433px;top:165px;width:33px;height:33px;background:#0d0887"><div style="left:0;width:100%;top:7px">0</div></div><div class="c" style="left:466px;top:165px;width:33px;height:33px;background:#0d0887"><div style="left:0;width:100%;top:7px">0</div></div><div class="c" style="left:499px;top:165px;width:34px;height:33px;background:#0d0887"><div style="left:0;width:100%;top:7px">0</div></div><div class="c" style="left:533px;top:165px;width:33px;height:33px;background:#0d0887"><div style="left:0;width:100%;top:7px">0</div></div><div class="c" style="left:566px;top:165px;width:33px;height:33px;background:#16078a"><div style="left:0;width:100%;top:7px">1</div></div><div class="c" style="left:599px;top:165px;width:34px;height:33px;background:#0d0887"><div style="left:0;width:100%;top:7px">0</div></div><div class="c" style="left:0px;top:198px;width:33px;height:33px;background:#16078a"><div style="left:0;width:100%;top:6px">1</div></div><div class="c" style="left:33px;top:198px;width:33px;height:33px;background:#0d0887"><div style="left:0;width:100%;top:6px">0</div></div><div class="c" style="left:66px;top:198px;width:34px;height:33px;background:#0d0887"><div style="left:0;width:100%;top:6px">0</div></div><div class="c" style="left:100px;top:198px;width:33px;height:33px;background:#0d0887"><div style="left:0;width:100%;top:6px">0</div></div><div class="c" style="left:133px;top:198px;width:33px;height:33px;background:#0d0887"><div style="left:0;width:100%;top:6px">0</div></div><div class="c" style="left:166px;top:198px;width:34px;height:33px;background:#0d0887"><div style="left:0;width:100%;top:6px">0</div></div><div class="c" style="left:200px;top:198px;width:33px;height:33px;background:#0d0887"><div style="left:0;width:100%;top:6px">0</div></div><div class="c" style="left:233px;top:198px;width:33px;height:33px;background:#0d0887"><div style="left:0;width:100%;top:6px">0</div></div><div class="c" style="left:266px;top:198px;width:34px;height:33px;background:#0d0887"><div style="left:0;width:100%;top:6px">0</div></div><div class="c" style="left:300px;top:198px;width:33px;height:33px;background:#0d0887"><div style="left:0;width:100%;top:6px">0</div></div><div class="c" style="left:333px;top:198px;width:33px;height:33px;background:#0d0887"><div style="left:0;width:100%;top:6px">0</div></div><div class="c" style="left:366px;top:198px;width:33px;height:33px;background:#0d0887"><div style="left:0;width:100%;top:6px">0</div></div><div class="c" style="left:399px;top:198px;width:34px;height:33px;background:#0d0887"><div style="left:0;width:100%;top:6px">0</div></div><div class="c" style="left:433px;top:198px;width:33px;height:33px;background:#0d0887"><div style="left:0;width:100%;top:6px">0</div></div><div class="c" style="left:466px;top:198px;width:33px;height:33px;background:#0d0887"><div style="left:0;width:100%;top:6px">0</div></div><div class="c" style="left:499px;top:198px;width:34px;height:33px;background:#0d0887"><div style="left:0;width:100%;top:6px">0</div></div><div class="c" style="left:533px;top:198px;width:33px;height:33px;background:#0d0887"><div style="left:0;width:100%;top:6px">0</div></div><div class="c" style="left:566px;top:198px;width:33px;height:33px;background:#0d0887"><div style="left:0;width:100%;top:6px">0</div></div><div class="c" style="left:599px;top:198px;width:34px;height:33px;background:#0d0887"><div style="left:0;width:100%;top:6px">0</div></div></div>
<div class="tk" style="left:86.6px;top:2059px;width:6.2px;height:2px"></div><div class="yt" style="left:20.1px;top:2050px;width:60px">2</div><div class="tk" style="left:86.6px;top:2092px;width:6.2px;height:2px"></div><div class="yt" style="left:20.1px;top:2083px;width:60px">3</div><div class="tk" style="left:86.6px;top:2125px;width:6.2px;height:2px"></div><div class="yt" style="left:20.1px;top:2116px;width:60px">4</div><div class="tk" style="left:86.6px;top:2158px;width:6.2px;height:2px"></div><div class="yt" style="left:20.1px;top:2149px;width:60px">5</div><div class="tk" style="left:86.6px;top:2191px;width:6.2px;height:2px"></div><div class="yt" style="left:20.1px;top:2182px;width:60px">6</div><div class="tk" style="left:86.6px;top:2224px;width:6.2px;height:2px"></div><div class="yt" style="left:20.1px;top:2215px;width:60px">7</div><div class="tk" style="left:86.6px;top:2257px;width:6.2px;height:2px"></div><div class="yt" style="left:20.1px;top:2248px;width:60px">8</div>
<div class="tk" style="left:108px;top:2274.4px;width:2px;height:6.2px"></div><div class="xt" style="left:79.5px;top:2284px;width:60px">10</div><div class="tk" style="left:142px;top:2274.4px;width:2px;height:6.2px"></div><div class="xt" style="left:112.8px;top:2284px;width:60px">15</div><div class="tk" style="left:175px;top:2274.4px;width:2px;height:6.2px"></div><div class="xt" style="left:146.1px;top:2284px;width:60px">20</div><div class="tk" style="left:208px;top:2274.4px;width:2px;height:6.2px"></div><div class="xt" style="left:179.4px;top:2284px;width:60px">25</div><div class="tk" style="left:242px;top:2274.4px;width:2px;height:6.2px"></div><div class="xt" style="left:212.7px;top:2284px;width:60px">30</div><div class="tk" style="left:275px;top:2274.4px;width:2px;height:6.2px"></div><div class="xt" style="left:246.0px;top:2284px;width:60px">35</div><div class="tk" style="left:308px;top:2274.4px;width:2px;height:6.2px"></div><div class="xt" style="left:279.3px;top:2284px;width:60px">40</div><div class="tk" style="left:342px;top:2274.4px;width:2px;height:6.2px"></div><div class="xt" style="left:312.6px;top:2284px;width:60px">45</div><div class="tk" style="left:375px;top:2274.4px;width:2px;height:6.2px"></div><div class="xt" style="left:345.9px;top:2284px;width:60px">50</div><div class="tk" style="left:408px;top:2274.4px;width:2px;height:6.2px"></div><div class="xt" style="left:379.2px;top:2284px;width:60px">55</div><div class="tk" style="left:442px;top:2274.4px;width:2px;height:6.2px"></div><div class="xt" style="left:412.5px;top:2284px;width:60px">60</div><div class="tk" style="left:475px;top:2274.4px;width:2px;height:6.2px"></div><div class="xt" style="left:445.8px;top:2284px;width:60px">65</div><div class="tk" style="left:508px;top:2274.4px;width:2px;height:6.2px"></div><div class="xt" style="left:479.1px;top:2284px;width:60px">70</div><div class="tk" style="left:541px;top:2274.4px;width:2px;height:6.2px"></div><div class="xt" style="left:512.4px;top:2284px;width:60px">75</div><div class="tk" style="left:575px;top:2274.4px;width:2px;height:6.2px"></div><div class="xt" style="left:545.7px;top:2284px;width:60px">80</div><div class="tk" style="left:608px;top:2274.4px;width:2px;height:6.2px"></div><div class="xt" style="left:579.0px;top:2284px;width:60px">85</div><div class="tk" style="left:641px;top:2274.4px;width:2px;height:6.2px"></div><div class="xt" style="left:612.3px;top:2284px;width:60px">90</div><div class="tk" style="left:675px;top:2274.4px;width:2px;height:6.2px"></div><div class="xt" style="left:645.6px;top:2284px;width:60px">95</div><div class="tk" style="left:708px;top:2274.4px;width:2px;height:6.2px"></div><div class="xt" style="left:678.9px;top:2284px;width:60px">100</div>
<div class="nn" style="left:309.7px;top:2306.37px;width:200px;line-height:30px;font-size:23.46px;transform:scaleX(1.05)">NN</div>
<div class="lab" style="left:734.9px;top:2157.02px">OPTICS</div>
<div class="N" style="left:24.3px;top:2126.80px;line-height:44px;font-size:37.92px">N</div><div class="sc" style="left:48.7px;top:2137.51px;line-height:40px;font-size:28.10px">c</div>
<div class="ttl" style="left:254.7px;top:2.71px;width:300px;line-height:36px;font-size:26.82px;transform:scaleX(1.068)">Euclidean</div>
<div class="ttl" style="left:246.1px;top:660.71px;width:300px;line-height:36px;font-size:26.82px;transform:scaleX(1.052)">Sphere</div>
<div class="ttl" style="left:251.6px;top:1525.41px;width:300px;line-height:36px;font-size:26.82px;transform:scaleX(1.100)">Hyperboloid</div>
</div></body></html>
